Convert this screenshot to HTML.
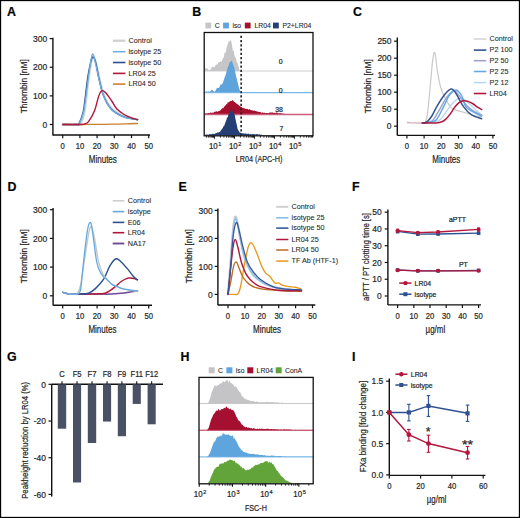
<!DOCTYPE html>
<html><head><meta charset="utf-8"><style>
html,body{margin:0;padding:0;background:#fff;}
svg{display:block;font-family:"Liberation Sans", sans-serif;}
text{stroke:#262626;stroke-width:0.22px;}
text.lg{stroke-width:0.08px;}
</style></head><body>
<svg width="520" height="518" viewBox="0 0 520 518">
<rect x="0.5" y="0.5" width="519" height="517" fill="#fff" stroke="#000" stroke-width="1.3"/>
<text x="7" y="16.2" font-size="12.4" font-weight="bold" fill="#000">A</text>
<line x1="52.90" y1="37.80" x2="52.90" y2="135.60" stroke="#111" stroke-width="1.4" />
<line x1="49.70" y1="124.50" x2="52.90" y2="124.50" stroke="#111" stroke-width="1.2" />
<text transform="translate(47.20,127.70) scale(0.93,1)" font-size="9.1" text-anchor="end" fill="#262626" font-weight="normal">0</text>
<line x1="49.70" y1="95.87" x2="52.90" y2="95.87" stroke="#111" stroke-width="1.2" />
<text transform="translate(47.20,99.07) scale(0.93,1)" font-size="9.1" text-anchor="end" fill="#262626" font-weight="normal">100</text>
<line x1="49.70" y1="67.24" x2="52.90" y2="67.24" stroke="#111" stroke-width="1.2" />
<text transform="translate(47.20,70.44) scale(0.93,1)" font-size="9.1" text-anchor="end" fill="#262626" font-weight="normal">200</text>
<line x1="49.70" y1="38.61" x2="52.90" y2="38.61" stroke="#111" stroke-width="1.2" />
<text transform="translate(47.20,41.81) scale(0.93,1)" font-size="9.1" text-anchor="end" fill="#262626" font-weight="normal">300</text>
<line x1="52.90" y1="135.00" x2="150.00" y2="135.00" stroke="#111" stroke-width="1.4" />
<line x1="62.70" y1="135.00" x2="62.70" y2="138.20" stroke="#111" stroke-width="1.2" />
<text transform="translate(62.70,148.90) scale(0.88,1)" font-size="8.7" text-anchor="middle" fill="#262626" font-weight="normal">0</text>
<line x1="79.90" y1="135.00" x2="79.90" y2="138.20" stroke="#111" stroke-width="1.2" />
<text transform="translate(79.90,148.90) scale(0.88,1)" font-size="8.7" text-anchor="middle" fill="#262626" font-weight="normal">10</text>
<line x1="97.10" y1="135.00" x2="97.10" y2="138.20" stroke="#111" stroke-width="1.2" />
<text transform="translate(97.10,148.90) scale(0.88,1)" font-size="8.7" text-anchor="middle" fill="#262626" font-weight="normal">20</text>
<line x1="114.30" y1="135.00" x2="114.30" y2="138.20" stroke="#111" stroke-width="1.2" />
<text transform="translate(114.30,148.90) scale(0.88,1)" font-size="8.7" text-anchor="middle" fill="#262626" font-weight="normal">30</text>
<line x1="131.50" y1="135.00" x2="131.50" y2="138.20" stroke="#111" stroke-width="1.2" />
<text transform="translate(131.50,148.90) scale(0.88,1)" font-size="8.7" text-anchor="middle" fill="#262626" font-weight="normal">40</text>
<line x1="148.70" y1="135.00" x2="148.70" y2="138.20" stroke="#111" stroke-width="1.2" />
<text transform="translate(148.70,148.90) scale(0.88,1)" font-size="8.7" text-anchor="middle" fill="#262626" font-weight="normal">50</text>
<text transform="translate(102.80,162.90) scale(0.77,1)" font-size="10.4" text-anchor="middle" fill="#262626" font-weight="normal">Minutes</text>
<text transform="translate(27.10,86.30) rotate(-90) scale(0.875,1)" font-size="9.6" text-anchor="middle" fill="#262626" font-weight="normal">Thrombin [nM]</text>
<path d="M62.70,124.50 C64.99,124.50 73.59,124.60 76.46,124.50 C79.33,124.40 78.61,125.84 79.90,123.93 C81.19,122.02 82.77,120.59 84.20,113.05 C85.63,105.51 87.30,87.38 88.50,78.69 C89.70,70.01 90.59,64.57 91.42,60.94 C92.26,57.31 92.74,56.60 93.49,56.93 C94.23,57.27 94.95,59.46 95.90,62.95 C96.84,66.43 97.93,72.73 99.16,77.83 C100.40,82.94 101.83,89.29 103.29,93.58 C104.75,97.87 106.24,100.83 107.94,103.60 C109.63,106.37 111.23,108.28 113.44,110.19 C115.65,112.09 118.46,113.76 121.18,115.05 C123.90,116.34 127.06,117.20 129.78,117.92 C132.50,118.63 136.23,119.11 137.52,119.35" fill="none" stroke="#d2d2d2" stroke-width="2.4" stroke-linejoin="round" stroke-linecap="round" opacity="1"/>
<path d="M62.70,124.50 C64.99,124.50 73.79,124.60 76.46,124.50 C79.13,124.40 77.55,126.22 78.70,123.93 C79.84,121.64 81.85,118.44 83.34,110.76 C84.83,103.08 86.32,86.28 87.64,77.83 C88.96,69.39 90.25,63.47 91.25,60.08 C92.26,56.69 92.86,56.89 93.66,57.51 C94.46,58.13 95.21,60.42 96.07,63.80 C96.93,67.19 97.67,72.78 98.82,77.83 C99.97,82.89 101.51,89.81 102.95,94.15 C104.38,98.49 105.81,101.17 107.42,103.89 C109.03,106.61 110.34,108.51 112.58,110.47 C114.82,112.43 118.26,114.34 120.84,115.62 C123.42,116.91 125.28,117.53 128.06,118.20 C130.84,118.87 135.94,119.39 137.52,119.63" fill="none" stroke="#2c4f8e" stroke-width="1.3" stroke-linejoin="round" stroke-linecap="round" opacity="1"/>
<path d="M62.70,124.50 C64.99,124.50 73.74,124.60 76.46,124.50 C79.18,124.40 77.81,126.22 79.04,123.93 C80.27,121.64 82.31,118.44 83.86,110.76 C85.40,103.08 87.10,86.52 88.33,77.83 C89.56,69.15 90.48,62.61 91.25,58.65 C92.03,54.69 92.37,53.78 92.97,54.07 C93.57,54.36 93.92,56.41 94.86,60.37 C95.81,64.33 97.33,72.20 98.65,77.83 C99.97,83.46 101.31,89.81 102.78,94.15 C104.24,98.49 105.79,101.12 107.42,103.89 C109.05,106.65 110.34,108.80 112.58,110.76 C114.82,112.71 118.26,114.38 120.84,115.62 C123.42,116.87 125.28,117.53 128.06,118.20 C130.84,118.87 135.94,119.39 137.52,119.63" fill="none" stroke="#6cb0e4" stroke-width="1.3" stroke-linejoin="round" stroke-linecap="round" opacity="1"/>
<path d="M62.70,124.50 C65.57,124.50 74.17,124.52 79.90,124.50 C85.63,124.48 91.37,124.40 97.10,124.36 C102.83,124.31 109.14,124.31 114.30,124.21 C119.46,124.12 124.19,123.90 128.06,123.78 C131.93,123.66 135.94,123.55 137.52,123.50" fill="none" stroke="#c8812f" stroke-width="1.3" stroke-linejoin="round" stroke-linecap="round" opacity="1"/>
<path d="M62.70,124.50 C65.85,124.50 77.95,124.60 81.62,124.50 C85.29,124.40 83.57,124.40 84.72,123.93 C85.86,123.45 86.87,123.83 88.50,121.64 C90.13,119.44 92.80,115.05 94.52,110.76 C96.24,106.46 97.59,99.21 98.82,95.87 C100.05,92.53 100.77,91.24 101.92,90.72 C103.06,90.19 104.07,91.00 105.70,92.72 C107.33,94.44 109.89,98.35 111.72,101.02 C113.55,103.70 114.64,106.51 116.71,108.75 C118.77,111.00 121.64,112.95 124.10,114.48 C126.57,116.01 129.26,117.06 131.50,117.92 C133.74,118.77 136.52,119.35 137.52,119.63" fill="none" stroke="#b0173d" stroke-width="1.4" stroke-linejoin="round" stroke-linecap="round" opacity="1"/>
<line x1="112.90" y1="40.70" x2="125.40" y2="40.70" stroke="#cfcfcf" stroke-width="2.2" />
<text class="lg" transform="translate(128.50,42.90) scale(0.95,1)" font-size="7.6" text-anchor="start" fill="#262626" font-weight="normal">Control</text>
<line x1="112.90" y1="51.70" x2="125.40" y2="51.70" stroke="#6cb0e4" stroke-width="1.6" />
<text class="lg" transform="translate(128.50,53.90) scale(0.95,1)" font-size="7.6" text-anchor="start" fill="#262626" font-weight="normal">isotype 25</text>
<line x1="112.90" y1="62.50" x2="125.40" y2="62.50" stroke="#2c4f8e" stroke-width="1.6" />
<text class="lg" transform="translate(128.50,64.70) scale(0.95,1)" font-size="7.6" text-anchor="start" fill="#262626" font-weight="normal">isotype 50</text>
<line x1="112.90" y1="73.40" x2="125.40" y2="73.40" stroke="#b0173d" stroke-width="1.6" />
<text class="lg" transform="translate(128.50,75.60) scale(0.95,1)" font-size="7.6" text-anchor="start" fill="#262626" font-weight="normal">LR04 25</text>
<line x1="112.90" y1="84.10" x2="125.40" y2="84.10" stroke="#c8812f" stroke-width="1.6" />
<text class="lg" transform="translate(128.50,86.30) scale(0.95,1)" font-size="7.6" text-anchor="start" fill="#262626" font-weight="normal">LR04 50</text>
<text x="192.2" y="15.6" font-size="12.4" font-weight="bold" fill="#000">B</text>
<rect x="205.39999999999998" y="22.599999999999998" width="5.8" height="5.8" fill="#c6c6c8"/>
<text class="lg" transform="translate(214.80,27.90) scale(0.92,1)" font-size="7.5" text-anchor="start" fill="#262626" font-weight="normal">C</text>
<rect x="223.1" y="22.599999999999998" width="5.8" height="5.8" fill="#5ea3dc"/>
<text class="lg" transform="translate(232.40,27.90) scale(0.92,1)" font-size="7.5" text-anchor="start" fill="#262626" font-weight="normal">iso</text>
<rect x="244.79999999999998" y="22.599999999999998" width="5.8" height="5.8" fill="#a5102f"/>
<text class="lg" transform="translate(254.40,27.90) scale(0.92,1)" font-size="7.5" text-anchor="start" fill="#262626" font-weight="normal">LR04</text>
<rect x="273.0" y="22.599999999999998" width="5.8" height="5.8" fill="#243f74"/>
<text class="lg" transform="translate(282.40,27.90) scale(0.92,1)" font-size="7.5" text-anchor="start" fill="#262626" font-weight="normal">P2+LR04</text>
<path d="M204.70,71.00 L204.70,67.55 L205.70,68.48 L206.70,68.52 L207.70,68.38 L208.70,70.60 L209.70,70.05 L210.70,69.58 L211.70,67.24 L212.70,66.45 L213.70,67.31 L214.70,66.77 L215.70,64.88 L216.70,64.48 L217.70,64.13 L218.70,61.98 L219.70,61.98 L220.70,61.34 L221.70,61.71 L222.70,58.38 L223.70,57.81 L224.70,52.20 L225.70,52.64 L226.70,47.19 L227.70,44.55 L228.70,41.12 L229.70,41.46 L230.70,39.62 L231.70,43.59 L232.70,50.28 L233.70,50.63 L234.70,56.46 L235.70,57.70 L236.70,61.86 L237.70,63.85 L238.70,67.29 L239.70,70.67 L240.70,71.00 L241.70,71.00 L242.00,71.00 Z" fill="#c6c6c8"/>
<line x1="204.20" y1="71.00" x2="313.00" y2="71.00" stroke="#c8c8c8" stroke-width="0.9" />
<path d="M204.70,92.60 L204.70,90.51 L205.70,92.17 L206.70,91.10 L207.70,91.92 L208.70,91.34 L209.70,91.66 L210.70,90.92 L211.70,89.46 L212.70,90.21 L213.70,91.18 L214.70,91.82 L215.70,90.24 L216.70,88.37 L217.70,87.80 L218.70,87.91 L219.70,86.68 L220.70,84.11 L221.70,84.80 L222.70,83.20 L223.70,80.16 L224.70,77.18 L225.70,74.86 L226.70,71.15 L227.70,67.46 L228.70,65.60 L229.70,62.02 L230.70,62.08 L231.70,60.14 L232.70,63.37 L233.70,66.04 L234.70,69.18 L235.70,74.83 L236.70,78.46 L237.70,82.41 L238.70,86.63 L239.70,90.12 L240.70,92.24 L241.70,92.60 L242.00,92.60 Z" fill="#5ea3dc"/>
<line x1="204.20" y1="92.60" x2="313.00" y2="92.60" stroke="#7ab6e6" stroke-width="1.1" />
<path d="M204.70,114.60 L204.70,113.44 L205.40,113.33 L206.10,113.66 L206.80,113.05 L207.50,113.43 L208.20,113.06 L208.90,113.00 L209.60,113.22 L210.30,112.57 L211.00,112.62 L211.70,113.06 L212.40,112.53 L213.10,112.95 L213.80,112.33 L214.50,111.85 L215.20,111.63 L215.90,111.62 L216.60,111.31 L217.30,111.65 L218.00,111.61 L218.70,110.94 L219.40,110.88 L220.10,110.49 L220.80,109.97 L221.50,109.09 L222.20,108.49 L222.90,107.80 L223.60,107.95 L224.30,106.42 L225.00,105.84 L225.70,105.35 L226.40,104.01 L227.10,104.15 L227.80,102.01 L228.50,102.47 L229.20,102.08 L229.90,101.37 L230.60,100.90 L231.30,101.09 L232.00,100.69 L232.70,100.03 L233.40,100.73 L234.10,102.03 L234.80,102.12 L235.50,102.86 L236.20,103.19 L236.90,103.93 L237.60,104.22 L238.30,104.73 L239.00,105.60 L239.70,105.89 L240.40,106.41 L241.10,106.64 L241.80,107.22 L242.50,107.98 L243.20,107.54 L243.90,108.42 L244.60,108.24 L245.30,108.65 L246.00,108.91 L246.70,108.78 L247.40,109.03 L248.10,108.89 L248.80,109.97 L249.50,109.07 L250.20,109.85 L250.90,109.95 L251.60,110.22 L252.30,110.15 L253.00,110.51 L253.70,110.75 L254.40,110.43 L255.10,111.11 L255.80,111.09 L256.50,111.34 L257.20,111.62 L257.90,111.75 L258.60,111.70 L259.30,112.11 L260.00,112.05 L260.70,112.26 L261.40,112.83 L262.10,112.83 L262.80,112.35 L263.50,112.97 L264.20,112.62 L264.90,112.91 L265.60,113.12 L266.30,113.08 L267.00,113.09 L267.70,113.11 L268.40,113.22 L269.10,112.69 L269.80,112.42 L270.50,112.42 L271.20,112.79 L271.90,112.24 L272.60,112.46 L273.30,112.68 L274.00,112.95 L274.70,112.79 L275.40,113.04 L276.10,112.59 L276.80,112.52 L277.50,112.87 L278.20,112.97 L278.90,113.39 L279.60,113.24 L280.30,113.04 L281.00,113.59 L281.70,113.32 L282.40,113.45 L283.10,114.03 L283.80,113.62 L284.50,113.76 L285.20,113.81 L285.90,114.54 L286.60,113.95 L287.30,114.31 L288.00,114.37 L288.70,114.44 L289.40,114.50 L290.10,114.55 L290.80,114.58 L291.50,114.60 L292.20,114.60 L292.90,114.60 L293.60,114.60 L294.30,114.60 L295.00,114.60 L295.70,114.60 L296.40,114.60 L297.10,114.60 L297.80,114.60 L298.50,114.60 L299.20,114.60 L299.90,114.60 L300.60,114.60 L301.30,114.60 L302.00,114.60 L302.70,114.60 L303.40,114.60 L304.10,114.60 L304.80,114.60 L305.50,114.60 L306.20,114.60 L306.90,114.60 L307.60,114.60 L308.30,114.60 L309.00,114.60 L309.70,114.60 L310.40,114.60 L311.10,114.60 L311.80,114.60 L312.50,114.60 L312.50,114.60 Z" fill="#a5102f"/>
<line x1="204.20" y1="114.60" x2="313.00" y2="114.60" stroke="#c9607c" stroke-width="1.5" />
<path d="M204.70,135.30 L204.70,134.94 L205.40,134.85 L206.10,134.66 L206.80,134.20 L207.50,134.65 L208.20,134.60 L208.90,134.75 L209.60,134.06 L210.30,134.03 L211.00,134.47 L211.70,134.08 L212.40,133.69 L213.10,134.14 L213.80,133.60 L214.50,133.90 L215.20,133.85 L215.90,132.86 L216.60,133.19 L217.30,132.59 L218.00,132.13 L218.70,132.40 L219.40,132.11 L220.10,131.80 L220.80,130.58 L221.50,129.80 L222.20,128.71 L222.90,127.68 L223.60,126.08 L224.30,125.70 L225.00,123.38 L225.70,121.69 L226.40,120.10 L227.10,117.01 L227.80,117.65 L228.50,113.50 L229.20,113.95 L229.90,112.54 L230.60,111.39 L231.30,107.55 L232.00,108.54 L232.70,112.28 L233.40,109.58 L234.10,113.62 L234.80,115.12 L235.50,119.28 L236.20,122.40 L236.90,125.32 L237.60,128.98 L238.30,130.46 L239.00,131.11 L239.70,132.84 L240.40,132.45 L241.10,133.24 L241.80,133.38 L242.50,133.34 L243.20,133.45 L243.90,133.14 L244.60,133.63 L245.30,133.60 L246.00,133.54 L246.70,133.85 L247.40,133.94 L248.10,133.57 L248.80,133.80 L249.50,134.23 L250.20,134.28 L250.90,133.80 L251.60,134.53 L252.30,134.02 L253.00,134.20 L253.70,134.06 L254.40,134.05 L255.10,134.66 L255.80,134.12 L256.50,134.02 L257.20,134.36 L257.90,134.35 L258.60,134.48 L259.30,134.42 L260.00,134.36 L260.70,135.09 L261.40,134.50 L262.10,135.01 L262.80,135.12 L263.50,135.23 L264.20,135.30 L264.90,135.30 L265.60,135.30 L266.30,135.30 L267.00,135.30 L267.70,135.30 L268.40,135.30 L269.10,135.30 L269.80,135.30 L270.50,135.30 L271.20,135.30 L271.90,135.30 L272.60,135.30 L273.30,135.30 L274.00,135.30 L274.70,135.30 L275.40,135.30 L276.10,135.30 L276.80,135.30 L277.50,135.30 L278.20,135.30 L278.90,135.30 L279.60,135.30 L280.30,135.30 L281.00,135.30 L281.70,135.30 L282.40,135.30 L283.10,135.30 L283.80,135.30 L284.50,135.30 L285.20,135.30 L285.90,135.30 L286.60,135.30 L287.30,135.30 L288.00,135.30 L288.70,135.30 L289.40,135.30 L290.10,135.30 L290.80,135.30 L291.50,135.30 L292.20,135.30 L292.90,135.30 L293.60,135.30 L294.30,135.30 L295.00,135.30 L295.70,135.30 L296.40,135.30 L297.10,135.30 L297.80,135.30 L298.50,135.30 L299.20,135.30 L299.90,135.30 L300.60,135.30 L301.30,135.30 L302.00,135.30 L302.70,135.30 L303.40,135.30 L304.10,135.30 L304.80,135.30 L305.50,135.30 L306.20,135.30 L306.90,135.30 L307.60,135.30 L308.30,135.30 L309.00,135.30 L309.70,135.30 L310.40,135.30 L311.10,135.30 L311.80,135.30 L312.50,135.30 L312.50,135.30 Z" fill="#243f74"/>
<line x1="241.15" y1="35.85" x2="241.15" y2="135.5" stroke="#222" stroke-width="1.6" stroke-dasharray="2.2,2.05"/>
<rect x="204.2" y="32.5" width="108.80000000000001" height="103.30000000000001" fill="none" stroke="#111" stroke-width="1.3"/>
<text transform="translate(280.80,63.50) scale(0.95,1)" font-size="7.3" text-anchor="middle" fill="#262626" font-weight="normal">0</text>
<text transform="translate(280.80,92.50) scale(0.95,1)" font-size="7.3" text-anchor="middle" fill="#262626" font-weight="normal">0</text>
<text transform="translate(279.00,111.50) scale(0.95,1)" font-size="7.3" text-anchor="middle" fill="#262626" font-weight="normal">38</text>
<text transform="translate(281.40,130.80) scale(0.95,1)" font-size="7.3" text-anchor="middle" fill="#262626" font-weight="normal">7</text>
<line x1="206.44" y1="135.80" x2="206.44" y2="137.60" stroke="#111" stroke-width="0.9" />
<line x1="208.38" y1="135.80" x2="208.38" y2="137.60" stroke="#111" stroke-width="0.9" />
<line x1="209.96" y1="135.80" x2="209.96" y2="137.60" stroke="#111" stroke-width="0.9" />
<line x1="211.30" y1="135.80" x2="211.30" y2="137.60" stroke="#111" stroke-width="0.9" />
<line x1="212.46" y1="135.80" x2="212.46" y2="137.60" stroke="#111" stroke-width="0.9" />
<line x1="213.48" y1="135.80" x2="213.48" y2="137.60" stroke="#111" stroke-width="0.9" />
<line x1="214.40" y1="135.80" x2="214.40" y2="138.80" stroke="#111" stroke-width="1.1" />
<line x1="220.42" y1="135.80" x2="220.42" y2="137.60" stroke="#111" stroke-width="0.9" />
<line x1="223.94" y1="135.80" x2="223.94" y2="137.60" stroke="#111" stroke-width="0.9" />
<line x1="226.44" y1="135.80" x2="226.44" y2="137.60" stroke="#111" stroke-width="0.9" />
<line x1="228.38" y1="135.80" x2="228.38" y2="137.60" stroke="#111" stroke-width="0.9" />
<line x1="229.96" y1="135.80" x2="229.96" y2="137.60" stroke="#111" stroke-width="0.9" />
<line x1="231.30" y1="135.80" x2="231.30" y2="137.60" stroke="#111" stroke-width="0.9" />
<line x1="232.46" y1="135.80" x2="232.46" y2="137.60" stroke="#111" stroke-width="0.9" />
<line x1="233.48" y1="135.80" x2="233.48" y2="137.60" stroke="#111" stroke-width="0.9" />
<g transform="translate(214.40,148.70) scale(0.9,1)"><text x="-1.2" y="0" font-size="8.8" text-anchor="middle" fill="#262626">10</text><text x="6.1" y="-3.1" font-size="6.2" text-anchor="middle" fill="#262626">1</text></g>
<line x1="234.40" y1="135.80" x2="234.40" y2="138.80" stroke="#111" stroke-width="1.1" />
<line x1="240.42" y1="135.80" x2="240.42" y2="137.60" stroke="#111" stroke-width="0.9" />
<line x1="243.94" y1="135.80" x2="243.94" y2="137.60" stroke="#111" stroke-width="0.9" />
<line x1="246.44" y1="135.80" x2="246.44" y2="137.60" stroke="#111" stroke-width="0.9" />
<line x1="248.38" y1="135.80" x2="248.38" y2="137.60" stroke="#111" stroke-width="0.9" />
<line x1="249.96" y1="135.80" x2="249.96" y2="137.60" stroke="#111" stroke-width="0.9" />
<line x1="251.30" y1="135.80" x2="251.30" y2="137.60" stroke="#111" stroke-width="0.9" />
<line x1="252.46" y1="135.80" x2="252.46" y2="137.60" stroke="#111" stroke-width="0.9" />
<line x1="253.48" y1="135.80" x2="253.48" y2="137.60" stroke="#111" stroke-width="0.9" />
<g transform="translate(234.40,148.70) scale(0.9,1)"><text x="-1.2" y="0" font-size="8.8" text-anchor="middle" fill="#262626">10</text><text x="6.1" y="-3.1" font-size="6.2" text-anchor="middle" fill="#262626">2</text></g>
<line x1="254.40" y1="135.80" x2="254.40" y2="138.80" stroke="#111" stroke-width="1.1" />
<line x1="260.42" y1="135.80" x2="260.42" y2="137.60" stroke="#111" stroke-width="0.9" />
<line x1="263.94" y1="135.80" x2="263.94" y2="137.60" stroke="#111" stroke-width="0.9" />
<line x1="266.44" y1="135.80" x2="266.44" y2="137.60" stroke="#111" stroke-width="0.9" />
<line x1="268.38" y1="135.80" x2="268.38" y2="137.60" stroke="#111" stroke-width="0.9" />
<line x1="269.96" y1="135.80" x2="269.96" y2="137.60" stroke="#111" stroke-width="0.9" />
<line x1="271.30" y1="135.80" x2="271.30" y2="137.60" stroke="#111" stroke-width="0.9" />
<line x1="272.46" y1="135.80" x2="272.46" y2="137.60" stroke="#111" stroke-width="0.9" />
<line x1="273.48" y1="135.80" x2="273.48" y2="137.60" stroke="#111" stroke-width="0.9" />
<g transform="translate(254.40,148.70) scale(0.9,1)"><text x="-1.2" y="0" font-size="8.8" text-anchor="middle" fill="#262626">10</text><text x="6.1" y="-3.1" font-size="6.2" text-anchor="middle" fill="#262626">3</text></g>
<line x1="274.40" y1="135.80" x2="274.40" y2="138.80" stroke="#111" stroke-width="1.1" />
<line x1="280.42" y1="135.80" x2="280.42" y2="137.60" stroke="#111" stroke-width="0.9" />
<line x1="283.94" y1="135.80" x2="283.94" y2="137.60" stroke="#111" stroke-width="0.9" />
<line x1="286.44" y1="135.80" x2="286.44" y2="137.60" stroke="#111" stroke-width="0.9" />
<line x1="288.38" y1="135.80" x2="288.38" y2="137.60" stroke="#111" stroke-width="0.9" />
<line x1="289.96" y1="135.80" x2="289.96" y2="137.60" stroke="#111" stroke-width="0.9" />
<line x1="291.30" y1="135.80" x2="291.30" y2="137.60" stroke="#111" stroke-width="0.9" />
<line x1="292.46" y1="135.80" x2="292.46" y2="137.60" stroke="#111" stroke-width="0.9" />
<line x1="293.48" y1="135.80" x2="293.48" y2="137.60" stroke="#111" stroke-width="0.9" />
<g transform="translate(274.40,148.70) scale(0.9,1)"><text x="-1.2" y="0" font-size="8.8" text-anchor="middle" fill="#262626">10</text><text x="6.1" y="-3.1" font-size="6.2" text-anchor="middle" fill="#262626">4</text></g>
<line x1="294.40" y1="135.80" x2="294.40" y2="138.80" stroke="#111" stroke-width="1.1" />
<line x1="300.42" y1="135.80" x2="300.42" y2="137.60" stroke="#111" stroke-width="0.9" />
<line x1="303.94" y1="135.80" x2="303.94" y2="137.60" stroke="#111" stroke-width="0.9" />
<line x1="306.44" y1="135.80" x2="306.44" y2="137.60" stroke="#111" stroke-width="0.9" />
<line x1="308.38" y1="135.80" x2="308.38" y2="137.60" stroke="#111" stroke-width="0.9" />
<line x1="309.96" y1="135.80" x2="309.96" y2="137.60" stroke="#111" stroke-width="0.9" />
<line x1="311.30" y1="135.80" x2="311.30" y2="137.60" stroke="#111" stroke-width="0.9" />
<line x1="312.46" y1="135.80" x2="312.46" y2="137.60" stroke="#111" stroke-width="0.9" />
<g transform="translate(294.40,148.70) scale(0.9,1)"><text x="-1.2" y="0" font-size="8.8" text-anchor="middle" fill="#262626">10</text><text x="6.1" y="-3.1" font-size="6.2" text-anchor="middle" fill="#262626">5</text></g>
<text transform="translate(259.00,162.30) scale(0.74,1)" font-size="9.8" text-anchor="middle" fill="#262626" font-weight="normal">LR04 (APC-H)</text>
<text x="353" y="16.2" font-size="12.4" font-weight="bold" fill="#000">C</text>
<line x1="397.30" y1="37.50" x2="397.30" y2="135.60" stroke="#111" stroke-width="1.4" />
<line x1="394.10" y1="126.20" x2="397.30" y2="126.20" stroke="#111" stroke-width="1.2" />
<text transform="translate(391.50,129.40) scale(0.93,1)" font-size="9.1" text-anchor="end" fill="#262626" font-weight="normal">0</text>
<line x1="394.10" y1="109.20" x2="397.30" y2="109.20" stroke="#111" stroke-width="1.2" />
<text transform="translate(391.50,112.40) scale(0.93,1)" font-size="9.1" text-anchor="end" fill="#262626" font-weight="normal">50</text>
<line x1="394.10" y1="92.20" x2="397.30" y2="92.20" stroke="#111" stroke-width="1.2" />
<text transform="translate(391.50,95.40) scale(0.93,1)" font-size="9.1" text-anchor="end" fill="#262626" font-weight="normal">100</text>
<line x1="394.10" y1="75.20" x2="397.30" y2="75.20" stroke="#111" stroke-width="1.2" />
<text transform="translate(391.50,78.40) scale(0.93,1)" font-size="9.1" text-anchor="end" fill="#262626" font-weight="normal">150</text>
<line x1="394.10" y1="58.20" x2="397.30" y2="58.20" stroke="#111" stroke-width="1.2" />
<text transform="translate(391.50,61.40) scale(0.93,1)" font-size="9.1" text-anchor="end" fill="#262626" font-weight="normal">200</text>
<line x1="394.10" y1="41.20" x2="397.30" y2="41.20" stroke="#111" stroke-width="1.2" />
<text transform="translate(391.50,44.40) scale(0.93,1)" font-size="9.1" text-anchor="end" fill="#262626" font-weight="normal">250</text>
<line x1="397.30" y1="135.40" x2="495.00" y2="135.40" stroke="#111" stroke-width="1.4" />
<line x1="406.90" y1="135.40" x2="406.90" y2="138.60" stroke="#111" stroke-width="1.2" />
<text transform="translate(406.90,149.00) scale(0.88,1)" font-size="8.7" text-anchor="middle" fill="#262626" font-weight="normal">0</text>
<line x1="424.10" y1="135.40" x2="424.10" y2="138.60" stroke="#111" stroke-width="1.2" />
<text transform="translate(424.10,149.00) scale(0.88,1)" font-size="8.7" text-anchor="middle" fill="#262626" font-weight="normal">10</text>
<line x1="441.30" y1="135.40" x2="441.30" y2="138.60" stroke="#111" stroke-width="1.2" />
<text transform="translate(441.30,149.00) scale(0.88,1)" font-size="8.7" text-anchor="middle" fill="#262626" font-weight="normal">20</text>
<line x1="458.50" y1="135.40" x2="458.50" y2="138.60" stroke="#111" stroke-width="1.2" />
<text transform="translate(458.50,149.00) scale(0.88,1)" font-size="8.7" text-anchor="middle" fill="#262626" font-weight="normal">30</text>
<line x1="475.70" y1="135.40" x2="475.70" y2="138.60" stroke="#111" stroke-width="1.2" />
<text transform="translate(475.70,149.00) scale(0.88,1)" font-size="8.7" text-anchor="middle" fill="#262626" font-weight="normal">40</text>
<line x1="492.90" y1="135.40" x2="492.90" y2="138.60" stroke="#111" stroke-width="1.2" />
<text transform="translate(492.90,149.00) scale(0.88,1)" font-size="8.7" text-anchor="middle" fill="#262626" font-weight="normal">50</text>
<text transform="translate(446.30,162.60) scale(0.77,1)" font-size="10.4" text-anchor="middle" fill="#262626" font-weight="normal">Minutes</text>
<text transform="translate(370.90,86.20) rotate(-90) scale(0.875,1)" font-size="9.6" text-anchor="middle" fill="#262626" font-weight="normal">Thrombin [nM]</text>
<path d="M406.90,122.46 L410.34,122.80 L423.24,122.97" fill="none" stroke="#d3b3c0" stroke-width="1.5"/>
<path d="M422.38,122.97 C422.81,122.94 424.13,124.25 424.96,122.80 C425.79,121.35 426.45,120.82 427.37,114.30 C428.29,107.78 429.58,92.77 430.46,83.70 C431.35,74.63 432.07,65.11 432.70,59.90 C433.33,54.69 433.76,52.99 434.25,52.42 C434.74,51.85 435.17,53.89 435.62,56.50 C436.08,59.11 436.31,63.53 437.00,68.06 C437.69,72.59 438.92,79.85 439.75,83.70 C440.58,87.55 440.98,88.63 441.99,91.18 C442.99,93.73 444.37,96.39 445.77,99.00 C447.18,101.61 448.87,105.01 450.42,106.82 C451.96,108.63 453.37,109.11 455.06,109.88 C456.75,110.64 458.39,110.79 460.56,111.41 C462.74,112.03 465.55,112.86 468.13,113.62 C470.71,114.39 473.84,115.49 476.04,116.00 C478.25,116.51 480.49,116.57 481.38,116.68" fill="none" stroke="#c9c9c9" stroke-width="1.2" stroke-linejoin="round" stroke-linecap="round" opacity="1"/>
<path d="M422.38,122.97 C423.10,122.94 424.67,123.00 426.68,122.80 C428.69,122.60 432.13,122.35 434.42,121.78 C436.71,121.21 437.89,121.89 440.44,119.40 C442.99,116.91 447.29,109.94 449.73,106.82 C452.16,103.70 453.25,102.12 455.06,100.70 C456.87,99.28 458.84,98.43 460.56,98.32 C462.28,98.21 463.57,98.77 465.38,100.02 C467.19,101.27 469.54,103.99 471.40,105.80 C473.26,107.61 474.84,109.43 476.56,110.90 C478.28,112.37 480.86,114.02 481.72,114.64" fill="none" stroke="#bcd7f0" stroke-width="1.4" stroke-linejoin="round" stroke-linecap="round" opacity="1"/>
<path d="M422.38,122.97 C422.95,122.94 424.67,122.94 425.82,122.80 C426.97,122.66 427.97,122.69 429.26,122.12 C430.55,121.55 431.58,121.95 433.56,119.40 C435.54,116.85 438.98,110.45 441.13,106.82 C443.28,103.19 444.51,100.25 446.46,97.64 C448.41,95.03 451.25,92.14 452.82,91.18 C454.40,90.22 454.69,90.90 455.92,91.86 C457.15,92.82 458.50,94.75 460.22,96.96 C461.94,99.17 464.09,102.80 466.24,105.12 C468.39,107.44 470.54,109.20 473.12,110.90 C475.70,112.60 480.29,114.58 481.72,115.32" fill="none" stroke="#9ea4cc" stroke-width="1.5" stroke-linejoin="round" stroke-linecap="round" opacity="1"/>
<path d="M422.38,122.97 C422.95,122.94 424.39,123.00 425.82,122.80 C427.25,122.60 429.17,122.35 430.98,121.78 C432.79,121.21 434.56,121.89 436.66,119.40 C438.75,116.91 441.47,110.79 443.54,106.82 C445.60,102.85 447.12,98.38 449.04,95.60 C450.96,92.82 453.48,90.84 455.06,90.16 C456.64,89.48 457.35,90.50 458.50,91.52 C459.65,92.54 460.71,93.73 461.94,96.28 C463.17,98.83 464.03,104.21 465.90,106.82 C467.76,109.43 470.48,110.39 473.12,111.92 C475.76,113.45 480.29,115.32 481.72,116.00" fill="none" stroke="#64a9e4" stroke-width="1.5" stroke-linejoin="round" stroke-linecap="round" opacity="1"/>
<path d="M422.38,122.97 C422.81,122.94 424.01,123.17 424.96,122.80 C425.91,122.43 426.91,121.89 428.06,120.76 C429.20,119.63 430.41,118.32 431.84,116.00 C433.27,113.68 434.71,110.16 436.66,106.82 C438.61,103.48 441.24,98.89 443.54,95.94 C445.83,92.99 448.70,90.05 450.42,89.14 C452.14,88.23 452.68,89.37 453.86,90.50 C455.03,91.63 455.83,93.22 457.47,95.94 C459.10,98.66 461.37,103.70 463.66,106.82 C465.95,109.94 468.22,112.66 471.23,114.64 C474.24,116.62 479.97,118.04 481.72,118.72" fill="none" stroke="#34548f" stroke-width="1.5" stroke-linejoin="round" stroke-linecap="round" opacity="1"/>
<path d="M422.38,122.97 C423.24,122.97 425.25,122.97 427.54,122.97 C429.83,122.97 433.73,123.17 436.14,122.97 C438.55,122.77 440.41,122.38 441.99,121.78 C443.56,121.19 444.31,120.59 445.60,119.40 C446.89,118.21 448.15,116.74 449.73,114.64 C451.30,112.54 453.45,108.86 455.06,106.82 C456.67,104.78 457.93,103.42 459.36,102.40 C460.79,101.38 462.23,100.87 463.66,100.70 C465.09,100.53 466.41,100.87 467.96,101.38 C469.51,101.89 471.37,102.80 472.95,103.76 C474.52,104.72 475.96,106.20 477.42,107.16 C478.88,108.12 481.00,109.14 481.72,109.54" fill="none" stroke="#b0173d" stroke-width="1.5" stroke-linejoin="round" stroke-linecap="round" opacity="1"/>
<line x1="473.80" y1="39.00" x2="486.30" y2="39.00" stroke="#d0d0d0" stroke-width="1.4" />
<text class="lg" transform="translate(489.60,41.20) scale(0.95,1)" font-size="7.6" text-anchor="start" fill="#262626" font-weight="normal">Control</text>
<line x1="473.80" y1="50.10" x2="486.30" y2="50.10" stroke="#34548f" stroke-width="1.6" />
<text class="lg" transform="translate(489.60,52.30) scale(0.95,1)" font-size="7.6" text-anchor="start" fill="#262626" font-weight="normal">P2 100</text>
<line x1="473.80" y1="60.70" x2="486.30" y2="60.70" stroke="#9ea4cc" stroke-width="1.6" />
<text class="lg" transform="translate(489.60,62.90) scale(0.95,1)" font-size="7.6" text-anchor="start" fill="#262626" font-weight="normal">P2 50</text>
<line x1="473.80" y1="71.50" x2="486.30" y2="71.50" stroke="#64a9e4" stroke-width="1.6" />
<text class="lg" transform="translate(489.60,73.70) scale(0.95,1)" font-size="7.6" text-anchor="start" fill="#262626" font-weight="normal">P2 25</text>
<line x1="473.80" y1="82.60" x2="486.30" y2="82.60" stroke="#bcd7f0" stroke-width="1.6" />
<text class="lg" transform="translate(489.60,84.80) scale(0.95,1)" font-size="7.6" text-anchor="start" fill="#262626" font-weight="normal">P2 12</text>
<line x1="473.80" y1="93.50" x2="486.30" y2="93.50" stroke="#b0173d" stroke-width="1.6" />
<text class="lg" transform="translate(489.60,95.70) scale(0.95,1)" font-size="7.6" text-anchor="start" fill="#262626" font-weight="normal">LR04</text>
<text x="7.5" y="190.8" font-size="12.4" font-weight="bold" fill="#000">D</text>
<line x1="53.10" y1="208.00" x2="53.10" y2="305.60" stroke="#111" stroke-width="1.4" />
<line x1="49.90" y1="295.80" x2="53.10" y2="295.80" stroke="#111" stroke-width="1.2" />
<text transform="translate(47.20,299.00) scale(0.93,1)" font-size="9.1" text-anchor="end" fill="#262626" font-weight="normal">0</text>
<line x1="49.90" y1="267.10" x2="53.10" y2="267.10" stroke="#111" stroke-width="1.2" />
<text transform="translate(47.20,270.30) scale(0.93,1)" font-size="9.1" text-anchor="end" fill="#262626" font-weight="normal">100</text>
<line x1="49.90" y1="238.40" x2="53.10" y2="238.40" stroke="#111" stroke-width="1.2" />
<text transform="translate(47.20,241.60) scale(0.93,1)" font-size="9.1" text-anchor="end" fill="#262626" font-weight="normal">200</text>
<line x1="49.90" y1="209.70" x2="53.10" y2="209.70" stroke="#111" stroke-width="1.2" />
<text transform="translate(47.20,212.90) scale(0.93,1)" font-size="9.1" text-anchor="end" fill="#262626" font-weight="normal">300</text>
<line x1="53.10" y1="305.30" x2="152.00" y2="305.30" stroke="#111" stroke-width="1.4" />
<line x1="62.70" y1="305.30" x2="62.70" y2="308.50" stroke="#111" stroke-width="1.2" />
<text transform="translate(62.70,319.30) scale(0.88,1)" font-size="8.7" text-anchor="middle" fill="#262626" font-weight="normal">0</text>
<line x1="79.90" y1="305.30" x2="79.90" y2="308.50" stroke="#111" stroke-width="1.2" />
<text transform="translate(79.90,319.30) scale(0.88,1)" font-size="8.7" text-anchor="middle" fill="#262626" font-weight="normal">10</text>
<line x1="97.10" y1="305.30" x2="97.10" y2="308.50" stroke="#111" stroke-width="1.2" />
<text transform="translate(97.10,319.30) scale(0.88,1)" font-size="8.7" text-anchor="middle" fill="#262626" font-weight="normal">20</text>
<line x1="114.30" y1="305.30" x2="114.30" y2="308.50" stroke="#111" stroke-width="1.2" />
<text transform="translate(114.30,319.30) scale(0.88,1)" font-size="8.7" text-anchor="middle" fill="#262626" font-weight="normal">30</text>
<line x1="131.50" y1="305.30" x2="131.50" y2="308.50" stroke="#111" stroke-width="1.2" />
<text transform="translate(131.50,319.30) scale(0.88,1)" font-size="8.7" text-anchor="middle" fill="#262626" font-weight="normal">40</text>
<line x1="148.70" y1="305.30" x2="148.70" y2="308.50" stroke="#111" stroke-width="1.2" />
<text transform="translate(148.70,319.30) scale(0.88,1)" font-size="8.7" text-anchor="middle" fill="#262626" font-weight="normal">50</text>
<text transform="translate(102.40,332.70) scale(0.77,1)" font-size="10.4" text-anchor="middle" fill="#262626" font-weight="normal">Minutes</text>
<text transform="translate(27.10,256.20) rotate(-90) scale(0.875,1)" font-size="9.6" text-anchor="middle" fill="#262626" font-weight="normal">Thrombin [nM]</text>
<path d="M62.70,292.36 C63.56,292.60 65.85,293.50 67.86,293.79 C69.87,294.08 69.87,294.03 74.74,294.08 C79.61,294.13 91.08,294.08 97.10,294.08 C103.12,294.08 106.85,294.22 110.86,294.08 C114.87,293.93 117.74,293.60 121.18,293.22 C124.62,292.83 128.78,292.16 131.50,291.78 C134.22,291.40 136.52,291.06 137.52,290.92" fill="none" stroke="#6d4a92" stroke-width="1.5" stroke-linejoin="round" stroke-linecap="round" opacity="1"/>
<path d="M62.70,292.36 C63.56,292.60 65.85,293.50 67.86,293.79 C69.87,294.08 71.30,294.03 74.74,294.08 C78.18,294.13 84.20,294.13 88.50,294.08 C92.80,294.03 97.76,293.93 100.54,293.79 C103.32,293.65 103.61,293.74 105.18,293.22 C106.76,292.69 108.31,291.73 110.00,290.63 C111.69,289.53 113.47,288.15 115.33,286.62 C117.20,285.09 119.23,282.84 121.18,281.45 C123.13,280.06 125.48,278.87 127.03,278.29 C128.58,277.72 129.29,277.96 130.47,278.01 C131.64,278.05 132.90,278.29 134.08,278.58 C135.26,278.87 136.95,279.54 137.52,279.73" fill="none" stroke="#b0173d" stroke-width="1.4" stroke-linejoin="round" stroke-linecap="round" opacity="1"/>
<path d="M62.70,292.36 C63.56,292.60 65.85,293.50 67.86,293.79 C69.87,294.08 72.73,294.03 74.74,294.08 C76.75,294.13 77.61,294.22 79.90,294.08 C82.19,293.93 85.92,294.13 88.50,293.22 C91.08,292.31 92.89,290.92 95.38,288.62 C97.87,286.33 101.03,283.27 103.46,279.44 C105.90,275.61 107.91,269.11 110.00,265.67 C112.09,262.22 114.16,259.40 116.02,258.78 C117.88,258.16 119.23,260.21 121.18,261.93 C123.13,263.66 125.71,266.72 127.72,269.11 C129.72,271.50 131.67,274.51 133.22,276.28 C134.77,278.05 136.37,279.15 137.00,279.73" fill="none" stroke="#2c4f8e" stroke-width="1.4" stroke-linejoin="round" stroke-linecap="round" opacity="1"/>
<path d="M62.70,292.36 C63.56,292.60 65.85,293.50 67.86,293.79 C69.87,294.08 73.22,294.08 74.74,294.08 C76.26,294.08 76.03,295.18 76.98,293.79 C77.92,292.40 79.13,291.64 80.42,285.75 C81.71,279.87 83.31,267.34 84.72,258.49 C86.12,249.64 87.75,237.97 88.84,232.66 C89.93,227.35 90.45,226.39 91.25,226.63 C92.05,226.87 92.83,230.46 93.66,234.10 C94.49,237.73 95.49,244.14 96.24,248.45 C96.99,252.75 97.13,255.86 98.13,259.93 C99.14,263.99 100.60,269.35 102.26,272.84 C103.92,276.33 106.10,278.77 108.11,280.88 C110.11,282.98 111.83,284.13 114.30,285.47 C116.77,286.81 120.03,288.05 122.90,288.91 C125.77,289.77 129.06,290.20 131.50,290.63 C133.94,291.06 136.52,291.35 137.52,291.50" fill="none" stroke="#c6c6c6" stroke-width="1.4" stroke-linejoin="round" stroke-linecap="round" opacity="1"/>
<path d="M62.70,292.36 C63.56,292.60 65.85,293.50 67.86,293.79 C69.87,294.08 73.02,294.08 74.74,294.08 C76.46,294.08 77.18,294.70 78.18,293.79 C79.18,292.88 79.87,293.89 80.76,288.62 C81.65,283.36 82.42,271.79 83.51,262.22 C84.60,252.65 86.21,237.87 87.30,231.23 C88.39,224.58 89.22,222.57 90.05,222.33 C90.88,222.09 91.17,223.14 92.28,229.79 C93.40,236.44 95.24,254.81 96.76,262.22 C98.28,269.64 99.71,271.41 101.40,274.28 C103.09,277.15 105.18,277.77 106.90,279.44 C108.62,281.12 110.00,283.12 111.72,284.32 C113.44,285.52 115.07,285.80 117.22,286.62 C119.37,287.43 121.24,288.48 124.62,289.20 C128.00,289.92 135.37,290.63 137.52,290.92" fill="none" stroke="#62aae4" stroke-width="1.3" stroke-linejoin="round" stroke-linecap="round" opacity="1"/>
<line x1="112.70" y1="200.80" x2="124.30" y2="200.80" stroke="#cfcfcf" stroke-width="1.6" />
<text class="lg" transform="translate(127.80,203.00) scale(0.95,1)" font-size="7.6" text-anchor="start" fill="#262626" font-weight="normal">Control</text>
<line x1="112.70" y1="211.60" x2="124.30" y2="211.60" stroke="#62aae4" stroke-width="1.6" />
<text class="lg" transform="translate(127.80,213.80) scale(0.95,1)" font-size="7.6" text-anchor="start" fill="#262626" font-weight="normal">isotype</text>
<line x1="112.70" y1="222.40" x2="124.30" y2="222.40" stroke="#2c4f8e" stroke-width="1.6" />
<text class="lg" transform="translate(127.80,224.60) scale(0.95,1)" font-size="7.6" text-anchor="start" fill="#262626" font-weight="normal">E06</text>
<line x1="112.70" y1="232.70" x2="124.30" y2="232.70" stroke="#b0173d" stroke-width="1.6" />
<text class="lg" transform="translate(127.80,234.90) scale(0.95,1)" font-size="7.6" text-anchor="start" fill="#262626" font-weight="normal">LR04</text>
<line x1="112.70" y1="243.50" x2="124.30" y2="243.50" stroke="#6d4a92" stroke-width="1.9" />
<text class="lg" transform="translate(127.80,245.70) scale(0.95,1)" font-size="7.6" text-anchor="start" fill="#262626" font-weight="normal">NA17</text>
<text x="178.4" y="190.5" font-size="12.4" font-weight="bold" fill="#000">E</text>
<line x1="217.90" y1="208.60" x2="217.90" y2="305.30" stroke="#111" stroke-width="1.4" />
<line x1="214.70" y1="294.40" x2="217.90" y2="294.40" stroke="#111" stroke-width="1.2" />
<text transform="translate(212.60,297.60) scale(0.93,1)" font-size="9.1" text-anchor="end" fill="#262626" font-weight="normal">0</text>
<line x1="214.70" y1="266.40" x2="217.90" y2="266.40" stroke="#111" stroke-width="1.2" />
<text transform="translate(212.60,269.60) scale(0.93,1)" font-size="9.1" text-anchor="end" fill="#262626" font-weight="normal">100</text>
<line x1="214.70" y1="238.40" x2="217.90" y2="238.40" stroke="#111" stroke-width="1.2" />
<text transform="translate(212.60,241.60) scale(0.93,1)" font-size="9.1" text-anchor="end" fill="#262626" font-weight="normal">200</text>
<line x1="214.70" y1="210.40" x2="217.90" y2="210.40" stroke="#111" stroke-width="1.2" />
<text transform="translate(212.60,213.60) scale(0.93,1)" font-size="9.1" text-anchor="end" fill="#262626" font-weight="normal">300</text>
<line x1="217.90" y1="305.00" x2="315.30" y2="305.00" stroke="#111" stroke-width="1.4" />
<line x1="228.00" y1="305.00" x2="228.00" y2="308.20" stroke="#111" stroke-width="1.2" />
<text transform="translate(228.00,318.90) scale(0.88,1)" font-size="8.7" text-anchor="middle" fill="#262626" font-weight="normal">0</text>
<line x1="244.90" y1="305.00" x2="244.90" y2="308.20" stroke="#111" stroke-width="1.2" />
<text transform="translate(244.90,318.90) scale(0.88,1)" font-size="8.7" text-anchor="middle" fill="#262626" font-weight="normal">10</text>
<line x1="261.80" y1="305.00" x2="261.80" y2="308.20" stroke="#111" stroke-width="1.2" />
<text transform="translate(261.80,318.90) scale(0.88,1)" font-size="8.7" text-anchor="middle" fill="#262626" font-weight="normal">20</text>
<line x1="278.70" y1="305.00" x2="278.70" y2="308.20" stroke="#111" stroke-width="1.2" />
<text transform="translate(278.70,318.90) scale(0.88,1)" font-size="8.7" text-anchor="middle" fill="#262626" font-weight="normal">30</text>
<line x1="295.60" y1="305.00" x2="295.60" y2="308.20" stroke="#111" stroke-width="1.2" />
<text transform="translate(295.60,318.90) scale(0.88,1)" font-size="8.7" text-anchor="middle" fill="#262626" font-weight="normal">40</text>
<line x1="312.50" y1="305.00" x2="312.50" y2="308.20" stroke="#111" stroke-width="1.2" />
<text transform="translate(312.50,318.90) scale(0.88,1)" font-size="8.7" text-anchor="middle" fill="#262626" font-weight="normal">50</text>
<text transform="translate(267.00,332.60) scale(0.77,1)" font-size="10.4" text-anchor="middle" fill="#262626" font-weight="normal">Minutes</text>
<text transform="translate(191.90,256.20) rotate(-90) scale(0.875,1)" font-size="9.6" text-anchor="middle" fill="#262626" font-weight="normal">Thrombin [nM]</text>
<path d="M228.00,294.40 C228.45,288.80 229.86,271.53 230.70,260.80 C231.55,250.07 232.31,237.33 233.07,230.00 C233.83,222.67 234.53,218.01 235.27,216.84 C236.00,215.67 236.56,219.17 237.46,223.00 C238.37,226.83 239.58,234.43 240.68,239.80 C241.77,245.17 242.79,250.77 244.06,255.20 C245.32,259.63 246.73,263.13 248.28,266.40 C249.83,269.67 251.32,272.37 253.35,274.80 C255.38,277.23 257.91,279.19 260.45,280.96 C262.98,282.73 265.52,284.23 268.56,285.44 C271.60,286.65 275.32,287.59 278.70,288.24 C282.08,288.89 285.04,288.99 288.84,289.36 C292.64,289.73 299.40,290.29 301.51,290.48" fill="none" stroke="#cdcdcd" stroke-width="2.4" stroke-linejoin="round" stroke-linecap="round" opacity="1"/>
<path d="M228.00,294.40 C228.45,289.03 229.86,272.70 230.70,262.20 C231.55,251.70 232.31,238.73 233.07,231.40 C233.83,224.07 234.53,219.50 235.27,218.24 C236.00,216.98 236.56,220.01 237.46,223.84 C238.37,227.67 239.58,235.74 240.68,241.20 C241.77,246.66 242.79,252.26 244.06,256.60 C245.32,260.94 246.73,264.11 248.28,267.24 C249.83,270.37 251.32,273.03 253.35,275.36 C255.38,277.69 257.91,279.56 260.45,281.24 C262.98,282.92 265.52,284.27 268.56,285.44 C271.60,286.61 275.32,287.59 278.70,288.24 C282.08,288.89 285.04,288.99 288.84,289.36 C292.64,289.73 299.40,290.29 301.51,290.48" fill="none" stroke="#8cc0ea" stroke-width="1.3" stroke-linejoin="round" stroke-linecap="round" opacity="1"/>
<path d="M228.00,294.40 C229.13,294.40 233.10,294.49 234.76,294.40 C236.42,294.31 236.99,295.24 237.97,293.84 C238.96,292.44 239.52,291.27 240.68,286.00 C241.83,280.73 243.63,268.73 244.90,262.20 C246.17,255.67 247.27,250.07 248.28,246.80 C249.29,243.53 250.05,242.69 250.98,242.60 C251.91,242.51 252.70,244.00 253.86,246.24 C255.01,248.48 256.59,252.68 257.91,256.04 C259.24,259.40 260.53,263.60 261.80,266.40 C263.07,269.20 264.17,271.16 265.52,272.84 C266.87,274.52 268.70,275.22 269.91,276.48 C271.12,277.74 271.91,279.28 272.78,280.40 C273.66,281.52 274.19,282.78 275.15,283.20 C276.11,283.62 277.52,282.69 278.53,282.92 C279.55,283.15 280.36,284.13 281.24,284.60 C282.11,285.07 282.53,285.37 283.77,285.72 C285.01,286.07 286.73,286.44 288.67,286.70 C290.61,286.96 293.35,286.86 295.43,287.26 C297.52,287.66 300.22,288.78 301.18,289.08" fill="none" stroke="#e59a1f" stroke-width="1.35" stroke-linejoin="round" stroke-linecap="round" opacity="1"/>
<path d="M228.00,294.40 C228.51,292.07 230.11,285.07 231.04,280.40 C231.97,275.73 232.70,269.48 233.58,266.40 C234.45,263.32 235.38,261.69 236.28,261.92 C237.18,262.15 237.97,265.42 238.99,267.80 C240.00,270.18 241.10,273.87 242.37,276.20 C243.63,278.53 245.29,280.35 246.59,281.80 C247.89,283.25 248.73,283.95 250.14,284.88 C251.55,285.81 252.67,286.65 255.04,287.40 C257.41,288.15 260.39,288.85 264.33,289.36 C268.28,289.87 272.50,290.15 278.70,290.48 C284.90,290.81 297.71,291.18 301.51,291.32" fill="none" stroke="#b96c22" stroke-width="1.35" stroke-linejoin="round" stroke-linecap="round" opacity="1"/>
<path d="M228.00,294.40 C228.42,290.20 229.69,277.13 230.53,269.20 C231.38,261.27 232.28,251.75 233.07,246.80 C233.86,241.85 234.48,239.52 235.27,239.52 C236.06,239.52 236.79,243.02 237.80,246.80 C238.82,250.58 240.03,257.77 241.35,262.20 C242.67,266.63 244.28,270.51 245.75,273.40 C247.21,276.29 248.59,277.83 250.14,279.56 C251.69,281.29 253.32,282.59 255.04,283.76 C256.76,284.93 257.63,285.63 260.45,286.56 C263.26,287.49 268.05,288.71 271.94,289.36 C275.83,290.01 278.84,290.25 283.77,290.48 C288.70,290.71 298.56,290.71 301.51,290.76" fill="none" stroke="#b0173d" stroke-width="1.4" stroke-linejoin="round" stroke-linecap="round" opacity="1"/>
<path d="M228.00,294.40 C228.45,289.73 229.86,275.97 230.70,266.40 C231.55,256.83 232.14,244.33 233.07,237.00 C234.00,229.67 235.30,223.61 236.28,222.44 C237.27,221.27 237.97,226.27 238.99,230.00 C240.00,233.73 240.96,239.47 242.37,244.84 C243.77,250.21 245.60,257.67 247.44,262.20 C249.27,266.73 251.18,269.11 253.35,272.00 C255.52,274.89 257.24,277.13 260.45,279.56 C263.66,281.99 268.73,285.02 272.62,286.56 C276.50,288.10 278.95,288.24 283.77,288.80 C288.59,289.36 298.56,289.73 301.51,289.92" fill="none" stroke="#35589a" stroke-width="1.25" stroke-linejoin="round" stroke-linecap="round" opacity="1"/>
<line x1="276.20" y1="206.80" x2="288.40" y2="206.80" stroke="#d0d0d0" stroke-width="2.0" />
<text class="lg" transform="translate(291.60,209.00) scale(0.95,1)" font-size="7.6" text-anchor="start" fill="#262626" font-weight="normal">Control</text>
<line x1="276.20" y1="217.80" x2="288.40" y2="217.80" stroke="#8cc0ea" stroke-width="1.7" />
<text class="lg" transform="translate(291.60,220.00) scale(0.95,1)" font-size="7.6" text-anchor="start" fill="#262626" font-weight="normal">isotype 25</text>
<line x1="276.20" y1="228.10" x2="288.40" y2="228.10" stroke="#2c4f8e" stroke-width="1.5" />
<text class="lg" transform="translate(291.60,230.30) scale(0.95,1)" font-size="7.6" text-anchor="start" fill="#262626" font-weight="normal">isotype 50</text>
<line x1="276.20" y1="239.50" x2="288.40" y2="239.50" stroke="#b0173d" stroke-width="1.5" />
<text class="lg" transform="translate(291.60,241.70) scale(0.95,1)" font-size="7.6" text-anchor="start" fill="#262626" font-weight="normal">LR04 25</text>
<line x1="276.20" y1="250.00" x2="288.40" y2="250.00" stroke="#b96c22" stroke-width="1.5" />
<text class="lg" transform="translate(291.60,252.20) scale(0.95,1)" font-size="7.6" text-anchor="start" fill="#262626" font-weight="normal">LR04 50</text>
<line x1="276.20" y1="261.10" x2="288.40" y2="261.10" stroke="#e59a1f" stroke-width="1.5" />
<text class="lg" transform="translate(291.60,263.30) scale(0.95,1)" font-size="7.6" text-anchor="start" fill="#262626" font-weight="normal">TF Ab (HTF-1)</text>
<text x="352" y="190.5" font-size="12.4" font-weight="bold" fill="#000">F</text>
<line x1="387.90" y1="209.60" x2="387.90" y2="305.10" stroke="#111" stroke-width="1.4" />
<line x1="384.70" y1="296.00" x2="387.90" y2="296.00" stroke="#111" stroke-width="1.2" />
<text transform="translate(381.60,299.20) scale(0.93,1)" font-size="9.1" text-anchor="end" fill="#262626" font-weight="normal">0</text>
<line x1="384.70" y1="279.24" x2="387.90" y2="279.24" stroke="#111" stroke-width="1.2" />
<text transform="translate(381.60,282.44) scale(0.93,1)" font-size="9.1" text-anchor="end" fill="#262626" font-weight="normal">10</text>
<line x1="384.70" y1="262.48" x2="387.90" y2="262.48" stroke="#111" stroke-width="1.2" />
<text transform="translate(381.60,265.68) scale(0.93,1)" font-size="9.1" text-anchor="end" fill="#262626" font-weight="normal">20</text>
<line x1="384.70" y1="245.72" x2="387.90" y2="245.72" stroke="#111" stroke-width="1.2" />
<text transform="translate(381.60,248.92) scale(0.93,1)" font-size="9.1" text-anchor="end" fill="#262626" font-weight="normal">30</text>
<line x1="384.70" y1="228.96" x2="387.90" y2="228.96" stroke="#111" stroke-width="1.2" />
<text transform="translate(381.60,232.16) scale(0.93,1)" font-size="9.1" text-anchor="end" fill="#262626" font-weight="normal">40</text>
<line x1="384.70" y1="212.20" x2="387.90" y2="212.20" stroke="#111" stroke-width="1.2" />
<text transform="translate(381.60,215.40) scale(0.93,1)" font-size="9.1" text-anchor="end" fill="#262626" font-weight="normal">50</text>
<line x1="387.90" y1="304.90" x2="481.00" y2="304.90" stroke="#111" stroke-width="1.4" />
<line x1="397.60" y1="304.90" x2="397.60" y2="308.10" stroke="#111" stroke-width="1.2" />
<text transform="translate(397.60,319.10) scale(0.88,1)" font-size="8.7" text-anchor="middle" fill="#262626" font-weight="normal">0</text>
<line x1="413.80" y1="304.90" x2="413.80" y2="308.10" stroke="#111" stroke-width="1.2" />
<text transform="translate(413.80,319.10) scale(0.88,1)" font-size="8.7" text-anchor="middle" fill="#262626" font-weight="normal">10</text>
<line x1="430.00" y1="304.90" x2="430.00" y2="308.10" stroke="#111" stroke-width="1.2" />
<text transform="translate(430.00,319.10) scale(0.88,1)" font-size="8.7" text-anchor="middle" fill="#262626" font-weight="normal">20</text>
<line x1="446.20" y1="304.90" x2="446.20" y2="308.10" stroke="#111" stroke-width="1.2" />
<text transform="translate(446.20,319.10) scale(0.88,1)" font-size="8.7" text-anchor="middle" fill="#262626" font-weight="normal">30</text>
<line x1="462.40" y1="304.90" x2="462.40" y2="308.10" stroke="#111" stroke-width="1.2" />
<text transform="translate(462.40,319.10) scale(0.88,1)" font-size="8.7" text-anchor="middle" fill="#262626" font-weight="normal">40</text>
<line x1="478.60" y1="304.90" x2="478.60" y2="308.10" stroke="#111" stroke-width="1.2" />
<text transform="translate(478.60,319.10) scale(0.88,1)" font-size="8.7" text-anchor="middle" fill="#262626" font-weight="normal">50</text>
<text transform="translate(435.40,333.40) scale(0.77,1)" font-size="10.4" text-anchor="middle" fill="#262626" font-weight="normal">µg/ml</text>
<text transform="translate(369.00,257.10) rotate(-90) scale(0.8,1)" font-size="9.6" text-anchor="middle" fill="#262626" font-weight="normal">aPTT / PT clotting time [s]</text>
<polyline points="397.60,231.47 417.85,234.16 438.10,233.99 478.60,233.15" fill="none" stroke="#2d518f" stroke-width="1.3"/>
<line x1="397.60" y1="230.13" x2="397.60" y2="232.81" stroke="#2d518f" stroke-width="1.0" />
<line x1="396.10" y1="230.13" x2="399.10" y2="230.13" stroke="#2d518f" stroke-width="1.0" />
<line x1="396.10" y1="232.81" x2="399.10" y2="232.81" stroke="#2d518f" stroke-width="1.0" />
<rect x="395.80" y="229.67" width="3.6" height="3.6" fill="#2d518f"/>
<line x1="417.85" y1="233.32" x2="417.85" y2="234.99" stroke="#2d518f" stroke-width="1.0" />
<line x1="416.35" y1="233.32" x2="419.35" y2="233.32" stroke="#2d518f" stroke-width="1.0" />
<line x1="416.35" y1="234.99" x2="419.35" y2="234.99" stroke="#2d518f" stroke-width="1.0" />
<rect x="416.05" y="232.36" width="3.6" height="3.6" fill="#2d518f"/>
<line x1="438.10" y1="233.15" x2="438.10" y2="234.83" stroke="#2d518f" stroke-width="1.0" />
<line x1="436.60" y1="233.15" x2="439.60" y2="233.15" stroke="#2d518f" stroke-width="1.0" />
<line x1="436.60" y1="234.83" x2="439.60" y2="234.83" stroke="#2d518f" stroke-width="1.0" />
<rect x="436.30" y="232.19" width="3.6" height="3.6" fill="#2d518f"/>
<line x1="478.60" y1="232.31" x2="478.60" y2="233.99" stroke="#2d518f" stroke-width="1.0" />
<line x1="477.10" y1="232.31" x2="480.10" y2="232.31" stroke="#2d518f" stroke-width="1.0" />
<line x1="477.10" y1="233.99" x2="480.10" y2="233.99" stroke="#2d518f" stroke-width="1.0" />
<rect x="476.80" y="231.35" width="3.6" height="3.6" fill="#2d518f"/>
<polyline points="397.60,230.64 417.85,232.65 438.10,231.98 478.60,229.46" fill="none" stroke="#b3173d" stroke-width="1.3"/>
<line x1="397.60" y1="229.13" x2="397.60" y2="232.14" stroke="#b3173d" stroke-width="1.0" />
<line x1="396.10" y1="229.13" x2="399.10" y2="229.13" stroke="#b3173d" stroke-width="1.0" />
<line x1="396.10" y1="232.14" x2="399.10" y2="232.14" stroke="#b3173d" stroke-width="1.0" />
<circle cx="397.60" cy="230.64" r="2.0" fill="#b3173d"/>
<line x1="417.85" y1="231.98" x2="417.85" y2="233.32" stroke="#b3173d" stroke-width="1.0" />
<line x1="416.35" y1="231.98" x2="419.35" y2="231.98" stroke="#b3173d" stroke-width="1.0" />
<line x1="416.35" y1="233.32" x2="419.35" y2="233.32" stroke="#b3173d" stroke-width="1.0" />
<circle cx="417.85" cy="232.65" r="2.0" fill="#b3173d"/>
<line x1="438.10" y1="231.14" x2="438.10" y2="232.81" stroke="#b3173d" stroke-width="1.0" />
<line x1="436.60" y1="231.14" x2="439.60" y2="231.14" stroke="#b3173d" stroke-width="1.0" />
<line x1="436.60" y1="232.81" x2="439.60" y2="232.81" stroke="#b3173d" stroke-width="1.0" />
<circle cx="438.10" cy="231.98" r="2.0" fill="#b3173d"/>
<line x1="478.60" y1="227.95" x2="478.60" y2="230.97" stroke="#b3173d" stroke-width="1.0" />
<line x1="477.10" y1="227.95" x2="480.10" y2="227.95" stroke="#b3173d" stroke-width="1.0" />
<line x1="477.10" y1="230.97" x2="480.10" y2="230.97" stroke="#b3173d" stroke-width="1.0" />
<circle cx="478.60" cy="229.46" r="2.0" fill="#b3173d"/>
<polyline points="397.60,270.02 417.85,270.86 438.10,270.86 478.60,270.36" fill="none" stroke="#2d518f" stroke-width="1.3"/>
<line x1="397.60" y1="269.35" x2="397.60" y2="270.69" stroke="#2d518f" stroke-width="1.0" />
<line x1="396.10" y1="269.35" x2="399.10" y2="269.35" stroke="#2d518f" stroke-width="1.0" />
<line x1="396.10" y1="270.69" x2="399.10" y2="270.69" stroke="#2d518f" stroke-width="1.0" />
<rect x="395.80" y="268.22" width="3.6" height="3.6" fill="#2d518f"/>
<line x1="417.85" y1="270.36" x2="417.85" y2="271.36" stroke="#2d518f" stroke-width="1.0" />
<line x1="416.35" y1="270.36" x2="419.35" y2="270.36" stroke="#2d518f" stroke-width="1.0" />
<line x1="416.35" y1="271.36" x2="419.35" y2="271.36" stroke="#2d518f" stroke-width="1.0" />
<rect x="416.05" y="269.06" width="3.6" height="3.6" fill="#2d518f"/>
<line x1="438.10" y1="270.36" x2="438.10" y2="271.36" stroke="#2d518f" stroke-width="1.0" />
<line x1="436.60" y1="270.36" x2="439.60" y2="270.36" stroke="#2d518f" stroke-width="1.0" />
<line x1="436.60" y1="271.36" x2="439.60" y2="271.36" stroke="#2d518f" stroke-width="1.0" />
<rect x="436.30" y="269.06" width="3.6" height="3.6" fill="#2d518f"/>
<line x1="478.60" y1="269.52" x2="478.60" y2="271.20" stroke="#2d518f" stroke-width="1.0" />
<line x1="477.10" y1="269.52" x2="480.10" y2="269.52" stroke="#2d518f" stroke-width="1.0" />
<line x1="477.10" y1="271.20" x2="480.10" y2="271.20" stroke="#2d518f" stroke-width="1.0" />
<rect x="476.80" y="268.56" width="3.6" height="3.6" fill="#2d518f"/>
<polyline points="397.60,270.19 417.85,270.86 438.10,270.86 478.60,270.86" fill="none" stroke="#b3173d" stroke-width="1.3"/>
<line x1="397.60" y1="269.52" x2="397.60" y2="270.86" stroke="#b3173d" stroke-width="1.0" />
<line x1="396.10" y1="269.52" x2="399.10" y2="269.52" stroke="#b3173d" stroke-width="1.0" />
<line x1="396.10" y1="270.86" x2="399.10" y2="270.86" stroke="#b3173d" stroke-width="1.0" />
<circle cx="397.60" cy="270.19" r="2.0" fill="#b3173d"/>
<line x1="417.85" y1="270.36" x2="417.85" y2="271.36" stroke="#b3173d" stroke-width="1.0" />
<line x1="416.35" y1="270.36" x2="419.35" y2="270.36" stroke="#b3173d" stroke-width="1.0" />
<line x1="416.35" y1="271.36" x2="419.35" y2="271.36" stroke="#b3173d" stroke-width="1.0" />
<circle cx="417.85" cy="270.86" r="2.0" fill="#b3173d"/>
<line x1="438.10" y1="270.36" x2="438.10" y2="271.36" stroke="#b3173d" stroke-width="1.0" />
<line x1="436.60" y1="270.36" x2="439.60" y2="270.36" stroke="#b3173d" stroke-width="1.0" />
<line x1="436.60" y1="271.36" x2="439.60" y2="271.36" stroke="#b3173d" stroke-width="1.0" />
<circle cx="438.10" cy="270.86" r="2.0" fill="#b3173d"/>
<line x1="478.60" y1="270.19" x2="478.60" y2="271.53" stroke="#b3173d" stroke-width="1.0" />
<line x1="477.10" y1="270.19" x2="480.10" y2="270.19" stroke="#b3173d" stroke-width="1.0" />
<line x1="477.10" y1="271.53" x2="480.10" y2="271.53" stroke="#b3173d" stroke-width="1.0" />
<circle cx="478.60" cy="270.86" r="2.0" fill="#b3173d"/>
<text transform="translate(457.50,222.40) scale(0.95,1)" font-size="7.4" text-anchor="middle" fill="#262626" font-weight="normal">aPTT</text>
<text transform="translate(463.40,266.80) scale(0.95,1)" font-size="7.4" text-anchor="middle" fill="#262626" font-weight="normal">PT</text>
<line x1="399.20" y1="283.10" x2="411.50" y2="283.10" stroke="#b3173d" stroke-width="1.5" />
<circle cx="405.4" cy="283.1" r="2.2" fill="#b3173d"/>
<text transform="translate(414.60,285.80) scale(0.92,1)" font-size="7.5" text-anchor="start" fill="#262626" font-weight="normal">LR04</text>
<line x1="399.20" y1="294.20" x2="411.50" y2="294.20" stroke="#2d518f" stroke-width="1.5" />
<rect x="403.4" y="292.2" width="4" height="4" fill="#2d518f"/>
<text transform="translate(414.60,296.80) scale(0.92,1)" font-size="7.5" text-anchor="start" fill="#262626" font-weight="normal">isotype</text>
<text x="7" y="361.0" font-size="12.4" font-weight="bold" fill="#000">G</text>
<line x1="51.70" y1="384.30" x2="51.70" y2="496.60" stroke="#111" stroke-width="1.4" />
<line x1="51.70" y1="384.30" x2="163.00" y2="384.30" stroke="#111" stroke-width="1.4" />
<line x1="48.50" y1="384.30" x2="51.70" y2="384.30" stroke="#111" stroke-width="1.2" />
<text transform="translate(46.00,387.50) scale(0.93,1)" font-size="9.1" text-anchor="end" fill="#262626" font-weight="normal">0</text>
<line x1="48.50" y1="421.00" x2="51.70" y2="421.00" stroke="#111" stroke-width="1.2" />
<text transform="translate(46.00,424.20) scale(0.93,1)" font-size="9.1" text-anchor="end" fill="#262626" font-weight="normal">-20</text>
<line x1="48.50" y1="457.70" x2="51.70" y2="457.70" stroke="#111" stroke-width="1.2" />
<text transform="translate(46.00,460.90) scale(0.93,1)" font-size="9.1" text-anchor="end" fill="#262626" font-weight="normal">-40</text>
<line x1="48.50" y1="494.40" x2="51.70" y2="494.40" stroke="#111" stroke-width="1.2" />
<text transform="translate(46.00,497.60) scale(0.93,1)" font-size="9.1" text-anchor="end" fill="#262626" font-weight="normal">-60</text>
<rect x="57.8" y="384.3" width="8.40" height="44.41" fill="#4b5164"/>
<line x1="62.00" y1="381.20" x2="62.00" y2="384.30" stroke="#111" stroke-width="1.1" />
<text transform="translate(62.00,376.80) scale(0.88,1)" font-size="8.6" text-anchor="middle" fill="#262626" font-weight="normal">C</text>
<rect x="73.0" y="384.3" width="8.10" height="98.17" fill="#4b5164"/>
<line x1="77.05" y1="381.20" x2="77.05" y2="384.30" stroke="#111" stroke-width="1.1" />
<text transform="translate(77.05,376.80) scale(0.88,1)" font-size="8.6" text-anchor="middle" fill="#262626" font-weight="normal">F5</text>
<rect x="87.8" y="384.3" width="8.40" height="58.72" fill="#4b5164"/>
<line x1="92.00" y1="381.20" x2="92.00" y2="384.30" stroke="#111" stroke-width="1.1" />
<text transform="translate(92.00,376.80) scale(0.88,1)" font-size="8.6" text-anchor="middle" fill="#262626" font-weight="normal">F7</text>
<rect x="103.0" y="384.3" width="8.10" height="37.25" fill="#4b5164"/>
<line x1="107.05" y1="381.20" x2="107.05" y2="384.30" stroke="#111" stroke-width="1.1" />
<text transform="translate(107.05,376.80) scale(0.88,1)" font-size="8.6" text-anchor="middle" fill="#262626" font-weight="normal">F8</text>
<rect x="117.8" y="384.3" width="8.20" height="51.93" fill="#4b5164"/>
<line x1="121.90" y1="381.20" x2="121.90" y2="384.30" stroke="#111" stroke-width="1.1" />
<text transform="translate(121.90,376.80) scale(0.88,1)" font-size="8.6" text-anchor="middle" fill="#262626" font-weight="normal">F9</text>
<rect x="132.7" y="384.3" width="8.10" height="19.63" fill="#4b5164"/>
<line x1="136.75" y1="381.20" x2="136.75" y2="384.30" stroke="#111" stroke-width="1.1" />
<text transform="translate(136.75,376.80) scale(0.88,1)" font-size="8.6" text-anchor="middle" fill="#262626" font-weight="normal">F11</text>
<rect x="147.6" y="384.3" width="8.10" height="40.00" fill="#4b5164"/>
<line x1="151.65" y1="381.20" x2="151.65" y2="384.30" stroke="#111" stroke-width="1.1" />
<text transform="translate(151.65,376.80) scale(0.88,1)" font-size="8.6" text-anchor="middle" fill="#262626" font-weight="normal">F12</text>
<text transform="translate(28.20,440.30) rotate(-90) scale(0.8,1)" font-size="9.6" text-anchor="middle" fill="#262626" font-weight="normal">Peakheight reduction by LR04 (%)</text>
<text x="180.4" y="360.8" font-size="12.4" font-weight="bold" fill="#000">H</text>
<rect x="208.7" y="367.3" width="6.0" height="6.0" fill="#c4c4c6"/>
<text class="lg" transform="translate(218.00,372.60) scale(0.92,1)" font-size="7.5" text-anchor="start" fill="#262626" font-weight="normal">C</text>
<rect x="226.39999999999998" y="367.3" width="6.0" height="6.0" fill="#5ea5de"/>
<text class="lg" transform="translate(235.80,372.60) scale(0.92,1)" font-size="7.5" text-anchor="start" fill="#262626" font-weight="normal">iso</text>
<rect x="247.29999999999998" y="367.3" width="6.0" height="6.0" fill="#a50f30"/>
<text class="lg" transform="translate(256.60,372.60) scale(0.92,1)" font-size="7.5" text-anchor="start" fill="#262626" font-weight="normal">LR04</text>
<rect x="275.7" y="367.3" width="6.0" height="6.0" fill="#62a43a"/>
<text class="lg" transform="translate(285.00,372.60) scale(0.92,1)" font-size="7.5" text-anchor="start" fill="#262626" font-weight="normal">ConA</text>
<path d="M199.50,403.50 L199.50,403.50 L200.30,403.50 L201.10,403.50 L201.90,403.50 L202.70,403.50 L203.50,403.50 L204.30,403.50 L205.10,403.50 L205.90,403.50 L206.70,403.50 L207.50,403.27 L208.30,402.55 L209.10,401.19 L209.90,398.83 L210.70,396.26 L211.50,392.73 L212.30,391.27 L213.10,389.10 L213.90,387.50 L214.70,385.31 L215.50,385.52 L216.30,386.38 L217.10,385.22 L217.90,385.33 L218.70,385.15 L219.50,383.79 L220.30,383.50 L221.10,383.19 L221.90,383.24 L222.70,381.13 L223.50,381.25 L224.30,382.32 L225.10,382.09 L225.90,380.52 L226.70,380.29 L227.50,379.81 L228.30,382.67 L229.10,380.71 L229.90,381.00 L230.70,383.23 L231.50,382.66 L232.30,384.66 L233.10,383.28 L233.90,385.95 L234.70,386.78 L235.50,386.16 L236.30,387.10 L237.10,388.32 L237.90,389.42 L238.70,390.68 L239.50,391.93 L240.30,392.13 L241.10,394.34 L241.90,396.18 L242.70,396.59 L243.50,397.43 L244.30,398.38 L245.10,398.48 L245.90,399.35 L246.70,399.44 L247.50,399.77 L248.30,400.23 L249.10,400.37 L249.90,400.45 L250.70,401.32 L251.50,400.74 L252.30,401.52 L253.10,400.94 L253.90,401.17 L254.70,401.43 L255.50,402.04 L256.30,401.52 L257.10,401.80 L257.90,401.80 L258.70,402.28 L259.50,402.07 L260.30,402.50 L261.10,401.91 L261.90,402.30 L262.70,402.25 L263.50,402.26 L264.30,402.32 L265.10,402.11 L265.90,402.26 L266.70,401.73 L267.50,401.88 L268.30,402.03 L269.10,402.60 L269.90,401.96 L270.70,401.88 L271.50,402.28 L272.30,402.20 L273.10,402.05 L273.90,402.49 L274.70,402.19 L275.50,402.39 L276.30,402.27 L277.10,402.54 L277.90,402.40 L278.70,402.55 L279.50,402.73 L280.30,402.94 L281.10,402.79 L281.90,402.83 L282.70,402.62 L283.50,403.06 L284.30,402.94 L285.10,402.78 L285.90,402.90 L286.70,403.05 L287.50,403.37 L288.30,403.18 L289.10,403.22 L289.90,403.25 L290.70,403.28 L291.50,403.31 L292.30,403.35 L293.10,403.38 L293.90,403.41 L294.70,403.45 L295.50,403.47 L296.30,403.49 L297.10,403.50 L297.90,403.50 L298.70,403.50 L299.50,403.50 L300.30,403.50 L301.10,403.50 L301.90,403.50 L302.70,403.50 L303.50,403.50 L304.30,403.50 L305.10,403.50 L305.90,403.50 L306.70,403.50 L307.50,403.50 L308.30,403.50 L309.10,403.50 L309.90,403.50 L310.70,403.50 L311.50,403.50 L312.30,403.50 L312.50,403.50 Z" fill="#c4c4c6"/>
<line x1="199.00" y1="403.50" x2="313.20" y2="403.50" stroke="#c8c8c8" stroke-width="1.0" />
<path d="M199.50,430.20 L199.50,430.20 L200.30,430.20 L201.10,430.20 L201.90,430.20 L202.70,430.20 L203.50,430.20 L204.30,430.20 L205.10,430.20 L205.90,430.20 L206.70,430.14 L207.50,429.38 L208.30,428.54 L209.10,426.66 L209.90,423.76 L210.70,420.98 L211.50,418.51 L212.30,417.13 L213.10,415.05 L213.90,413.98 L214.70,413.01 L215.50,411.85 L216.30,410.48 L217.10,410.85 L217.90,410.29 L218.70,408.44 L219.50,410.53 L220.30,410.44 L221.10,409.35 L221.90,409.01 L222.70,409.17 L223.50,408.61 L224.30,407.83 L225.10,408.45 L225.90,406.83 L226.70,406.52 L227.50,408.27 L228.30,407.49 L229.10,409.43 L229.90,409.05 L230.70,408.46 L231.50,410.12 L232.30,409.76 L233.10,410.57 L233.90,410.74 L234.70,412.73 L235.50,414.25 L236.30,416.67 L237.10,417.59 L237.90,419.51 L238.70,420.67 L239.50,421.00 L240.30,422.09 L241.10,423.38 L241.90,424.81 L242.70,424.85 L243.50,426.32 L244.30,426.40 L245.10,427.24 L245.90,427.14 L246.70,426.83 L247.50,427.95 L248.30,427.56 L249.10,427.72 L249.90,428.11 L250.70,428.15 L251.50,428.07 L252.30,428.70 L253.10,428.31 L253.90,428.30 L254.70,428.51 L255.50,428.92 L256.30,429.00 L257.10,428.64 L257.90,428.61 L258.70,429.14 L259.50,428.58 L260.30,428.88 L261.10,428.58 L261.90,429.03 L262.70,428.67 L263.50,428.90 L264.30,429.12 L265.10,428.92 L265.90,428.89 L266.70,428.71 L267.50,428.63 L268.30,428.78 L269.10,429.37 L269.90,429.23 L270.70,428.89 L271.50,429.01 L272.30,429.16 L273.10,429.23 L273.90,429.30 L274.70,429.09 L275.50,429.61 L276.30,429.14 L277.10,429.15 L277.90,429.40 L278.70,429.41 L279.50,429.64 L280.30,429.52 L281.10,429.59 L281.90,429.82 L282.70,429.67 L283.50,429.58 L284.30,429.21 L285.10,429.39 L285.90,429.63 L286.70,429.32 L287.50,429.67 L288.30,429.36 L289.10,429.66 L289.90,429.77 L290.70,429.58 L291.50,429.68 L292.30,429.88 L293.10,429.93 L293.90,429.93 L294.70,430.14 L295.50,429.84 L296.30,430.20 L297.10,429.91 L297.90,429.94 L298.70,429.96 L299.50,429.98 L300.30,430.00 L301.10,430.01 L301.90,430.02 L302.70,430.03 L303.50,430.04 L304.30,430.04 L305.10,430.05 L305.90,430.06 L306.70,430.07 L307.50,430.07 L308.30,430.08 L309.10,430.09 L309.90,430.10 L310.70,430.11 L311.50,430.12 L312.30,430.12 L312.50,430.20 Z" fill="#a50f30"/>
<line x1="199.00" y1="430.20" x2="313.20" y2="430.20" stroke="#b8304f" stroke-width="1.0" />
<path d="M199.50,456.90 L199.50,456.90 L200.30,456.90 L201.10,456.90 L201.90,456.90 L202.70,456.90 L203.50,456.90 L204.30,456.90 L205.10,456.90 L205.90,456.90 L206.70,456.90 L207.50,456.62 L208.30,455.67 L209.10,454.16 L209.90,453.01 L210.70,451.04 L211.50,448.49 L212.30,446.25 L213.10,444.35 L213.90,441.76 L214.70,441.94 L215.50,440.27 L216.30,438.19 L217.10,437.33 L217.90,436.31 L218.70,437.06 L219.50,436.19 L220.30,435.81 L221.10,435.77 L221.90,435.75 L222.70,433.78 L223.50,433.27 L224.30,434.02 L225.10,434.86 L225.90,434.42 L226.70,434.66 L227.50,434.66 L228.30,434.11 L229.10,435.37 L229.90,435.60 L230.70,435.87 L231.50,436.33 L232.30,435.28 L233.10,436.12 L233.90,438.93 L234.70,437.88 L235.50,439.92 L236.30,441.18 L237.10,442.29 L237.90,444.86 L238.70,446.22 L239.50,447.48 L240.30,448.31 L241.10,449.70 L241.90,450.30 L242.70,450.98 L243.50,451.82 L244.30,451.91 L245.10,452.61 L245.90,452.60 L246.70,452.79 L247.50,453.35 L248.30,453.73 L249.10,453.28 L249.90,453.91 L250.70,453.72 L251.50,453.98 L252.30,453.70 L253.10,454.30 L253.90,453.75 L254.70,454.24 L255.50,454.44 L256.30,454.54 L257.10,454.23 L257.90,454.51 L258.70,454.80 L259.50,454.85 L260.30,455.04 L261.10,455.06 L261.90,455.12 L262.70,454.89 L263.50,455.46 L264.30,455.35 L265.10,455.18 L265.90,455.48 L266.70,455.65 L267.50,455.67 L268.30,455.65 L269.10,455.65 L269.90,455.95 L270.70,455.71 L271.50,455.27 L272.30,455.79 L273.10,455.62 L273.90,455.58 L274.70,456.23 L275.50,456.24 L276.30,456.30 L277.10,456.21 L277.90,455.93 L278.70,456.06 L279.50,455.90 L280.30,455.97 L281.10,456.31 L281.90,456.13 L282.70,456.75 L283.50,456.50 L284.30,456.53 L285.10,456.61 L285.90,456.66 L286.70,456.69 L287.50,456.70 L288.30,456.71 L289.10,456.72 L289.90,456.72 L290.70,456.73 L291.50,456.73 L292.30,456.73 L293.10,456.74 L293.90,456.74 L294.70,456.75 L295.50,456.75 L296.30,456.76 L297.10,456.76 L297.90,456.77 L298.70,456.77 L299.50,456.78 L300.30,456.78 L301.10,456.79 L301.90,456.79 L302.70,456.80 L303.50,456.80 L304.30,456.81 L305.10,456.81 L305.90,456.82 L306.70,456.82 L307.50,456.83 L308.30,456.83 L309.10,456.83 L309.90,456.84 L310.70,456.84 L311.50,456.85 L312.30,456.85 L312.50,456.90 Z" fill="#5ea5de"/>
<line x1="199.00" y1="456.90" x2="313.20" y2="456.90" stroke="#6aaee4" stroke-width="1.0" />
<path d="M199.50,483.30 L199.50,483.30 L200.30,483.30 L201.10,483.30 L201.90,483.30 L202.70,483.30 L203.50,483.30 L204.30,483.30 L205.10,483.30 L205.90,483.30 L206.70,483.30 L207.50,483.30 L208.30,482.61 L209.10,481.28 L209.90,480.26 L210.70,477.61 L211.50,475.73 L212.30,473.64 L213.10,472.47 L213.90,469.99 L214.70,469.05 L215.50,468.16 L216.30,467.16 L217.10,467.03 L217.90,466.71 L218.70,466.29 L219.50,464.30 L220.30,463.77 L221.10,463.59 L221.90,463.67 L222.70,463.00 L223.50,463.70 L224.30,461.81 L225.10,462.57 L225.90,461.82 L226.70,461.43 L227.50,460.39 L228.30,460.96 L229.10,459.66 L229.90,459.93 L230.70,459.60 L231.50,459.94 L232.30,460.37 L233.10,460.76 L233.90,461.22 L234.70,460.43 L235.50,463.00 L236.30,462.21 L237.10,463.88 L237.90,463.30 L238.70,464.77 L239.50,464.81 L240.30,466.43 L241.10,466.40 L241.90,467.59 L242.70,468.55 L243.50,467.81 L244.30,468.94 L245.10,469.82 L245.90,470.51 L246.70,470.34 L247.50,469.59 L248.30,469.99 L249.10,469.47 L249.90,469.35 L250.70,468.99 L251.50,467.83 L252.30,467.61 L253.10,467.50 L253.90,465.92 L254.70,465.69 L255.50,464.66 L256.30,464.89 L257.10,464.65 L257.90,464.83 L258.70,464.14 L259.50,464.27 L260.30,463.23 L261.10,462.85 L261.90,463.10 L262.70,462.75 L263.50,462.83 L264.30,461.72 L265.10,461.51 L265.90,461.07 L266.70,461.37 L267.50,461.27 L268.30,462.71 L269.10,462.54 L269.90,461.36 L270.70,463.22 L271.50,462.30 L272.30,464.06 L273.10,464.36 L273.90,464.99 L274.70,466.75 L275.50,467.94 L276.30,469.80 L277.10,470.74 L277.90,471.37 L278.70,472.65 L279.50,473.56 L280.30,474.86 L281.10,476.12 L281.90,476.64 L282.70,476.93 L283.50,477.86 L284.30,479.18 L285.10,479.51 L285.90,480.82 L286.70,480.58 L287.50,480.90 L288.30,481.42 L289.10,481.76 L289.90,482.49 L290.70,482.43 L291.50,482.73 L292.30,483.00 L293.10,483.12 L293.90,483.21 L294.70,483.27 L295.50,483.30 L296.30,483.30 L297.10,483.30 L297.90,483.30 L298.70,483.30 L299.50,483.30 L300.30,483.30 L301.10,483.30 L301.90,483.30 L302.70,483.30 L303.50,483.30 L304.30,483.30 L305.10,483.30 L305.90,483.30 L306.70,483.30 L307.50,483.30 L308.30,483.30 L309.10,483.30 L309.90,483.30 L310.70,483.30 L311.50,483.30 L312.30,483.30 L312.50,483.30 Z" fill="#62a43a"/>
<rect x="199.0" y="377.4" width="114.19999999999999" height="106.40000000000003" fill="none" stroke="#111" stroke-width="1.3"/>
<line x1="199.25" y1="483.80" x2="199.25" y2="486.80" stroke="#111" stroke-width="1.1" />
<line x1="209.24" y1="483.80" x2="209.24" y2="485.60" stroke="#111" stroke-width="0.9" />
<line x1="215.09" y1="483.80" x2="215.09" y2="485.60" stroke="#111" stroke-width="0.9" />
<line x1="219.24" y1="483.80" x2="219.24" y2="485.60" stroke="#111" stroke-width="0.9" />
<line x1="222.46" y1="483.80" x2="222.46" y2="485.60" stroke="#111" stroke-width="0.9" />
<line x1="225.08" y1="483.80" x2="225.08" y2="485.60" stroke="#111" stroke-width="0.9" />
<line x1="227.31" y1="483.80" x2="227.31" y2="485.60" stroke="#111" stroke-width="0.9" />
<line x1="229.23" y1="483.80" x2="229.23" y2="485.60" stroke="#111" stroke-width="0.9" />
<line x1="230.93" y1="483.80" x2="230.93" y2="485.60" stroke="#111" stroke-width="0.9" />
<g transform="translate(199.25,497.20) scale(0.9,1)"><text x="-1.2" y="0" font-size="8.8" text-anchor="middle" fill="#262626">10</text><text x="6.1" y="-3.1" font-size="6.2" text-anchor="middle" fill="#262626">2</text></g>
<line x1="232.45" y1="483.80" x2="232.45" y2="486.80" stroke="#111" stroke-width="1.1" />
<line x1="242.44" y1="483.80" x2="242.44" y2="485.60" stroke="#111" stroke-width="0.9" />
<line x1="248.29" y1="483.80" x2="248.29" y2="485.60" stroke="#111" stroke-width="0.9" />
<line x1="252.44" y1="483.80" x2="252.44" y2="485.60" stroke="#111" stroke-width="0.9" />
<line x1="255.66" y1="483.80" x2="255.66" y2="485.60" stroke="#111" stroke-width="0.9" />
<line x1="258.28" y1="483.80" x2="258.28" y2="485.60" stroke="#111" stroke-width="0.9" />
<line x1="260.51" y1="483.80" x2="260.51" y2="485.60" stroke="#111" stroke-width="0.9" />
<line x1="262.43" y1="483.80" x2="262.43" y2="485.60" stroke="#111" stroke-width="0.9" />
<line x1="264.13" y1="483.80" x2="264.13" y2="485.60" stroke="#111" stroke-width="0.9" />
<g transform="translate(232.45,497.20) scale(0.9,1)"><text x="-1.2" y="0" font-size="8.8" text-anchor="middle" fill="#262626">10</text><text x="6.1" y="-3.1" font-size="6.2" text-anchor="middle" fill="#262626">3</text></g>
<line x1="265.65" y1="483.80" x2="265.65" y2="486.80" stroke="#111" stroke-width="1.1" />
<line x1="275.64" y1="483.80" x2="275.64" y2="485.60" stroke="#111" stroke-width="0.9" />
<line x1="281.49" y1="483.80" x2="281.49" y2="485.60" stroke="#111" stroke-width="0.9" />
<line x1="285.64" y1="483.80" x2="285.64" y2="485.60" stroke="#111" stroke-width="0.9" />
<line x1="288.86" y1="483.80" x2="288.86" y2="485.60" stroke="#111" stroke-width="0.9" />
<line x1="291.48" y1="483.80" x2="291.48" y2="485.60" stroke="#111" stroke-width="0.9" />
<line x1="293.71" y1="483.80" x2="293.71" y2="485.60" stroke="#111" stroke-width="0.9" />
<line x1="295.63" y1="483.80" x2="295.63" y2="485.60" stroke="#111" stroke-width="0.9" />
<line x1="297.33" y1="483.80" x2="297.33" y2="485.60" stroke="#111" stroke-width="0.9" />
<g transform="translate(265.65,497.20) scale(0.9,1)"><text x="-1.2" y="0" font-size="8.8" text-anchor="middle" fill="#262626">10</text><text x="6.1" y="-3.1" font-size="6.2" text-anchor="middle" fill="#262626">4</text></g>
<line x1="298.85" y1="483.80" x2="298.85" y2="486.80" stroke="#111" stroke-width="1.1" />
<line x1="308.84" y1="483.80" x2="308.84" y2="485.60" stroke="#111" stroke-width="0.9" />
<g transform="translate(298.85,497.20) scale(0.9,1)"><text x="-1.2" y="0" font-size="8.8" text-anchor="middle" fill="#262626">10</text><text x="6.1" y="-3.1" font-size="6.2" text-anchor="middle" fill="#262626">5</text></g>
<text transform="translate(255.90,510.60) scale(0.735,1)" font-size="9.8" text-anchor="middle" fill="#262626" font-weight="normal">FSC-H</text>
<text x="352" y="361.0" font-size="12.4" font-weight="bold" fill="#000">I</text>
<line x1="389.30" y1="378.60" x2="389.30" y2="475.40" stroke="#111" stroke-width="1.4" />
<line x1="386.10" y1="474.90" x2="389.30" y2="474.90" stroke="#111" stroke-width="1.2" />
<text transform="translate(383.30,478.10) scale(0.93,1)" font-size="9.1" text-anchor="end" fill="#262626" font-weight="normal">0.0</text>
<line x1="386.10" y1="443.65" x2="389.30" y2="443.65" stroke="#111" stroke-width="1.2" />
<text transform="translate(383.30,446.85) scale(0.93,1)" font-size="9.1" text-anchor="end" fill="#262626" font-weight="normal">0.5</text>
<line x1="386.10" y1="412.40" x2="389.30" y2="412.40" stroke="#111" stroke-width="1.2" />
<text transform="translate(383.30,415.60) scale(0.93,1)" font-size="9.1" text-anchor="end" fill="#262626" font-weight="normal">1.0</text>
<line x1="386.10" y1="381.15" x2="389.30" y2="381.15" stroke="#111" stroke-width="1.2" />
<text transform="translate(383.30,384.35) scale(0.93,1)" font-size="9.1" text-anchor="end" fill="#262626" font-weight="normal">1.5</text>
<line x1="389.30" y1="475.40" x2="485.40" y2="475.40" stroke="#111" stroke-width="1.4" />
<line x1="389.30" y1="475.40" x2="389.30" y2="478.60" stroke="#111" stroke-width="1.2" />
<text transform="translate(389.30,488.50) scale(0.88,1)" font-size="8.7" text-anchor="middle" fill="#262626" font-weight="normal">0</text>
<line x1="420.60" y1="475.40" x2="420.60" y2="478.60" stroke="#111" stroke-width="1.2" />
<text transform="translate(420.60,488.50) scale(0.88,1)" font-size="8.7" text-anchor="middle" fill="#262626" font-weight="normal">20</text>
<line x1="451.90" y1="475.40" x2="451.90" y2="478.60" stroke="#111" stroke-width="1.2" />
<text transform="translate(451.90,488.50) scale(0.88,1)" font-size="8.7" text-anchor="middle" fill="#262626" font-weight="normal">40</text>
<line x1="483.20" y1="475.40" x2="483.20" y2="478.60" stroke="#111" stroke-width="1.2" />
<text transform="translate(483.20,488.50) scale(0.88,1)" font-size="8.7" text-anchor="middle" fill="#262626" font-weight="normal">60</text>
<text transform="translate(436.50,502.60) scale(0.77,1)" font-size="10.4" text-anchor="middle" fill="#262626" font-weight="normal">µg/ml</text>
<text transform="translate(366.20,426.50) rotate(-90) scale(0.84,1)" font-size="9.6" text-anchor="middle" fill="#262626" font-weight="normal">FXa binding [fold change]</text>
<polyline points="389.30,412.40 408.86,412.40 428.43,405.90 467.55,413.34" fill="none" stroke="#2f5191" stroke-width="1.5"/>
<line x1="408.86" y1="404.30" x2="408.86" y2="420.90" stroke="#2f5191" stroke-width="1.1" />
<line x1="407.06" y1="404.30" x2="410.66" y2="404.30" stroke="#2f5191" stroke-width="1.1" />
<line x1="407.06" y1="420.90" x2="410.66" y2="420.90" stroke="#2f5191" stroke-width="1.1" />
<line x1="428.43" y1="395.60" x2="428.43" y2="416.40" stroke="#2f5191" stroke-width="1.1" />
<line x1="426.62" y1="395.60" x2="430.23" y2="395.60" stroke="#2f5191" stroke-width="1.1" />
<line x1="426.62" y1="416.40" x2="430.23" y2="416.40" stroke="#2f5191" stroke-width="1.1" />
<line x1="467.55" y1="405.10" x2="467.55" y2="421.40" stroke="#2f5191" stroke-width="1.1" />
<line x1="465.75" y1="405.10" x2="469.35" y2="405.10" stroke="#2f5191" stroke-width="1.1" />
<line x1="465.75" y1="421.40" x2="469.35" y2="421.40" stroke="#2f5191" stroke-width="1.1" />
<rect x="387.20" y="410.30" width="4.2" height="4.2" fill="#2f5191"/>
<rect x="406.76" y="410.30" width="4.2" height="4.2" fill="#2f5191"/>
<rect x="426.32" y="403.80" width="4.2" height="4.2" fill="#2f5191"/>
<rect x="465.45" y="411.24" width="4.2" height="4.2" fill="#2f5191"/>
<polyline points="389.30,412.40 408.86,434.71 428.43,443.59 467.55,452.71" fill="none" stroke="#b3173d" stroke-width="1.5"/>
<line x1="408.86" y1="429.40" x2="408.86" y2="441.00" stroke="#b3173d" stroke-width="1.1" />
<line x1="407.06" y1="429.40" x2="410.66" y2="429.40" stroke="#b3173d" stroke-width="1.1" />
<line x1="407.06" y1="441.00" x2="410.66" y2="441.00" stroke="#b3173d" stroke-width="1.1" />
<line x1="428.43" y1="435.20" x2="428.43" y2="452.30" stroke="#b3173d" stroke-width="1.1" />
<line x1="426.62" y1="435.20" x2="430.23" y2="435.20" stroke="#b3173d" stroke-width="1.1" />
<line x1="426.62" y1="452.30" x2="430.23" y2="452.30" stroke="#b3173d" stroke-width="1.1" />
<line x1="467.55" y1="446.50" x2="467.55" y2="459.00" stroke="#b3173d" stroke-width="1.1" />
<line x1="465.75" y1="446.50" x2="469.35" y2="446.50" stroke="#b3173d" stroke-width="1.1" />
<line x1="465.75" y1="459.00" x2="469.35" y2="459.00" stroke="#b3173d" stroke-width="1.1" />
<circle cx="389.30" cy="412.40" r="2.4" fill="#b3173d"/>
<circle cx="408.86" cy="434.71" r="2.4" fill="#b3173d"/>
<circle cx="428.43" cy="443.59" r="2.4" fill="#b3173d"/>
<circle cx="467.55" cy="452.71" r="2.4" fill="#b3173d"/>
<text transform="translate(428.20,436.10)" font-size="12.5" text-anchor="middle" fill="#262626" font-weight="normal">*</text>
<text transform="translate(467.60,448.60) scale(1.15,1)" font-size="12.5" text-anchor="middle" fill="#262626" font-weight="normal">**</text>
<line x1="395.40" y1="374.20" x2="407.50" y2="374.20" stroke="#b3173d" stroke-width="1.5" />
<circle cx="401.3" cy="374.2" r="2.2" fill="#b3173d"/>
<text transform="translate(410.80,376.80) scale(0.92,1)" font-size="7.5" text-anchor="start" fill="#262626" font-weight="normal">LR04</text>
<line x1="395.40" y1="385.00" x2="407.50" y2="385.00" stroke="#2f5191" stroke-width="1.5" />
<rect x="399.3" y="383.0" width="4" height="4" fill="#2f5191"/>
<text transform="translate(410.80,387.60) scale(0.92,1)" font-size="7.5" text-anchor="start" fill="#262626" font-weight="normal">isotype</text>
</svg>
</body></html>
